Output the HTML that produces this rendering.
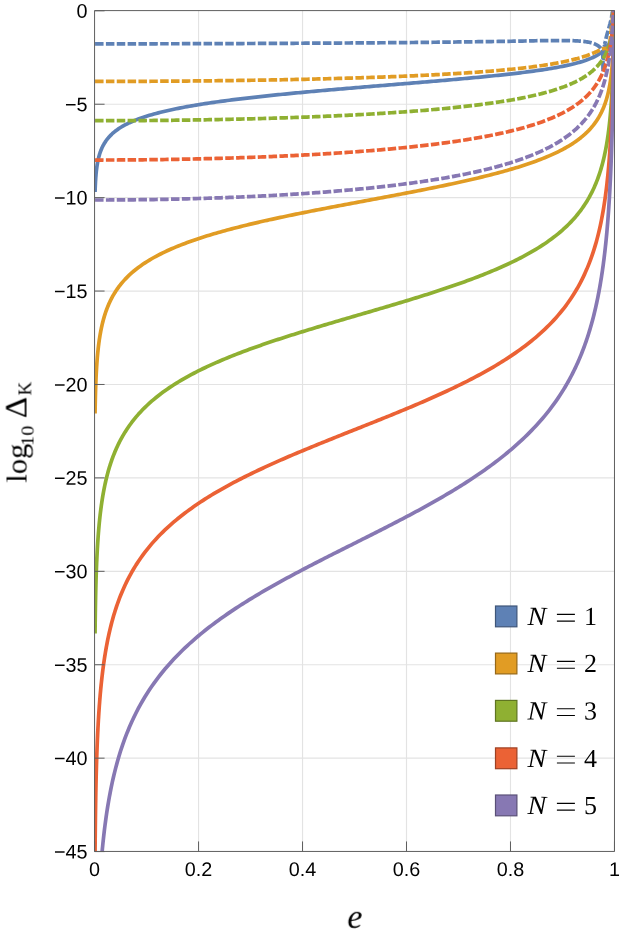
<!DOCTYPE html>
<html><head><meta charset="utf-8"><title>plot</title>
<style>
html,body{margin:0;padding:0;background:#fff;}
body{width:621px;height:945px;position:relative;overflow:hidden;font-family:"Liberation Sans",sans-serif;}
</style></head><body>
<svg width="621" height="945" viewBox="0 0 621 945" style="position:absolute;left:0;top:0;display:block">
<defs><clipPath id="pc"><rect x="93.97" y="10.1" width="520.9000000000001" height="841.35"/></clipPath></defs>
<rect x="0" y="0" width="621" height="945" fill="#ffffff"/>
<path d="M198.55,10.6 V851.45 M302.53,10.6 V851.45 M406.51,10.6 V851.45 M510.49,10.6 V851.45 M94.57,104.22 H614.47 M94.57,197.64 H614.47 M94.57,291.06 H614.47 M94.57,384.48 H614.47 M94.57,477.90 H614.47 M94.57,571.32 H614.47 M94.57,664.74 H614.47 M94.57,758.16 H614.47" stroke="#e3e3e3" stroke-width="1.15" fill="none"/>
<g clip-path="url(#pc)" fill="none" stroke-linejoin="round">
<path d="M95.06,192.01 L95.08,191.47 L95.09,190.93 L95.11,190.39 L95.13,189.84 L95.15,189.3 L95.17,188.76 L95.19,188.22 L95.21,187.68 L95.23,187.13 L95.25,186.59 L95.28,186.05 L95.3,185.51 L95.32,184.97 L95.35,184.42 L95.38,183.88 L95.4,183.34 L95.43,182.8 L95.46,182.26 L95.49,181.71 L95.52,181.17 L95.56,180.63 L95.59,180.09 L95.62,179.55 L95.66,179 L95.7,178.46 L95.73,177.92 L95.77,177.38 L95.81,176.84 L95.86,176.29 L95.9,175.75 L95.95,175.21 L95.99,174.67 L96.04,174.13 L96.09,173.59 L96.14,173.04 L96.2,172.5 L96.25,171.96 L96.31,171.42 L96.37,170.88 L96.43,170.33 L96.49,169.79 L96.56,169.25 L96.62,168.71 L96.69,168.17 L96.77,167.62 L96.84,167.08 L96.92,166.54 L97,166 L97.08,165.46 L97.17,164.91 L97.25,164.37 L97.34,163.83 L97.44,163.29 L97.54,162.75 L97.64,162.2 L97.74,161.66 L97.85,161.12 L97.96,160.58 L98.08,160.04 L98.19,159.49 L98.32,158.95 L98.44,158.41 L98.58,157.87 L98.71,157.33 L98.85,156.78 L99,156.24 L99.15,155.7 L99.3,155.16 L99.46,154.62 L99.63,154.07 L99.8,153.53 L99.98,152.99 L100.16,152.45 L100.35,151.91 L100.55,151.36 L100.75,150.82 L100.96,150.28 L101.18,149.74 L101.41,149.2 L101.64,148.65 L101.88,148.11 L102.13,147.57 L102.38,147.03 L102.65,146.49 L102.92,145.94 L103.21,145.4 L103.5,144.86 L103.8,144.32 L104.12,143.78 L104.44,143.23 L104.77,142.69 L105.12,142.15 L105.48,141.61 L105.85,141.06 L106.23,140.52 L106.63,139.98 L107.04,139.44 L107.46,138.9 L107.9,138.35 L108.35,137.81 L108.82,137.27 L109.3,136.73 L109.81,136.18 L110.32,135.64 L110.86,135.1 L111.41,134.56 L111.98,134.01 L112.57,133.47 L113.18,132.93 L113.82,132.39 L114.47,131.84 L115.15,131.3 L115.85,130.76 L116.57,130.22 L117.31,129.67 L118.09,129.13 L118.89,128.59 L119.71,128.04 L120.56,127.5 L122.79,126.17 L125.01,124.93 L127.23,123.79 L129.45,122.71 L131.67,121.71 L133.89,120.76 L136.11,119.86 L138.33,119.01 L140.55,118.2 L142.77,117.43 L144.99,116.69 L147.21,115.98 L149.43,115.31 L151.65,114.66 L153.88,114.03 L156.1,113.42 L158.32,112.84 L160.54,112.28 L162.76,111.73 L164.98,111.2 L167.2,110.69 L169.42,110.19 L171.64,109.7 L173.86,109.23 L176.08,108.77 L178.3,108.32 L180.52,107.89 L182.74,107.46 L184.96,107.05 L187.19,106.64 L189.41,106.24 L191.63,105.85 L193.85,105.47 L196.07,105.1 L198.29,104.73 L200.51,104.37 L202.73,104.02 L204.95,103.68 L207.17,103.34 L209.39,103.01 L211.61,102.68 L213.83,102.36 L216.05,102.04 L218.27,101.73 L220.5,101.42 L222.72,101.12 L224.94,100.82 L227.16,100.53 L229.38,100.24 L231.6,99.96 L233.82,99.68 L236.04,99.4 L238.26,99.13 L240.48,98.86 L242.7,98.59 L244.92,98.33 L247.14,98.07 L249.36,97.81 L251.59,97.56 L253.81,97.3 L256.03,97.06 L258.25,96.81 L260.47,96.57 L262.69,96.33 L264.91,96.09 L267.13,95.85 L269.35,95.62 L271.57,95.39 L273.79,95.16 L276.01,94.93 L278.23,94.7 L280.45,94.48 L282.67,94.26 L284.9,94.04 L287.12,93.82 L289.34,93.6 L291.56,93.39 L293.78,93.18 L296,92.96 L298.22,92.75 L300.44,92.55 L302.66,92.34 L304.88,92.13 L307.1,91.93 L309.32,91.72 L311.54,91.52 L313.76,91.32 L315.98,91.12 L318.21,90.92 L320.43,90.72 L322.65,90.53 L324.87,90.33 L327.09,90.14 L329.31,89.94 L331.53,89.75 L333.75,89.56 L335.97,89.37 L338.19,89.18 L340.41,88.99 L342.63,88.8 L344.85,88.61 L347.07,88.42 L349.29,88.23 L351.52,88.05 L353.74,87.86 L355.96,87.67 L358.18,87.49 L360.4,87.3 L362.62,87.12 L364.84,86.94 L367.06,86.75 L369.28,86.57 L371.5,86.39 L373.72,86.2 L375.94,86.02 L378.16,85.84 L380.38,85.66 L382.61,85.47 L384.83,85.29 L387.05,85.11 L389.27,84.93 L391.49,84.75 L393.71,84.57 L395.93,84.38 L398.15,84.2 L400.37,84.02 L402.59,83.84 L404.81,83.66 L407.03,83.47 L409.25,83.29 L411.47,83.11 L413.69,82.92 L415.92,82.74 L418.14,82.56 L420.36,82.37 L422.58,82.19 L424.8,82 L427.02,81.82 L429.24,81.63 L431.46,81.44 L433.68,81.25 L435.9,81.07 L438.12,80.88 L440.34,80.69 L442.56,80.5 L444.78,80.31 L447,80.11 L449.23,79.92 L451.45,79.72 L453.67,79.53 L455.89,79.33 L458.11,79.14 L460.33,78.94 L462.55,78.74 L464.77,78.53 L466.99,78.33 L469.21,78.13 L471.43,77.92 L473.65,77.71 L475.87,77.5 L478.09,77.29 L480.31,77.08 L482.54,76.86 L484.76,76.65 L486.98,76.43 L489.2,76.2 L491.42,75.98 L493.64,75.75 L495.86,75.52 L498.08,75.29 L500.3,75.06 L502.52,74.82 L504.74,74.58 L506.96,74.34 L509.18,74.09 L511.4,73.84 L513.63,73.58 L515.85,73.32 L518.07,73.06 L520.29,72.79 L522.51,72.52 L524.73,72.24 L526.95,71.96 L529.17,71.67 L531.39,71.37 L533.61,71.07 L535.83,70.77 L538.05,70.45 L540.27,70.13 L542.49,69.8 L544.71,69.46 L546.94,69.12 L549.16,68.76 L551.38,68.39 L553.6,68.01 L555.82,67.62 L558.04,67.21 L560.26,66.79 L562.48,66.36 L563.67,66.12 L564.83,65.88 L565.96,65.64 L567.07,65.41 L568.15,65.17 L569.2,64.93 L570.24,64.69 L571.25,64.46 L572.23,64.22 L573.2,63.99 L574.14,63.75 L575.06,63.52 L575.96,63.28 L576.84,63.05 L577.7,62.81 L578.53,62.58 L579.35,62.35 L580.16,62.11 L580.94,61.88 L581.7,61.65 L582.45,61.41 L583.18,61.18 L583.9,60.95 L584.59,60.72 L585.28,60.48 L585.94,60.25 L586.59,60.02 L587.23,59.79 L587.85,59.56 L588.46,59.32 L589.05,59.09 L589.63,58.86 L590.2,58.63 L590.75,58.4 L591.29,58.17 L591.82,57.94 L592.34,57.7 L592.84,57.47 L593.34,57.24 L593.82,57.01 L594.29,56.78 L594.75,56.55 L595.2,56.31 L595.64,56.08 L596.07,55.85 L596.49,55.62 L596.9,55.39 L597.3,55.16 L597.69,54.92 L598.08,54.69 L598.45,54.46 L598.82,54.23 L599.17,53.99 L599.52,53.76 L599.86,53.53 L600.2,53.3 L600.52,53.06 L600.84,52.83 L601.15,52.6 L601.46,52.37 L601.75,52.13 L602.04,51.9 L602.33,51.66 L602.6,51.43 L602.87,51.2 L603.14,50.96 L603.4,50.73 L603.65,50.49 L603.9,50.26 L604.14,50.03 L604.37,49.79 L604.6,49.56 L604.83,49.32 L605.05,49.09 L605.26,48.85 L605.47,48.61 L605.68,48.38 L605.88,48.14 L606.08,47.91 L606.27,47.67 L606.46,47.43 L606.64,47.2 L606.82,46.96 L606.99,46.72 L607.16,46.48 L607.33,46.25 L607.49,46.01 L607.65,45.77 L607.81,45.53 L607.96,45.29 L608.11,45.06 L608.25,44.82 L608.39,44.58 L608.53,44.34 L608.67,44.1 L608.8,43.86 L608.93,43.62 L609.06,43.38 L609.18,43.14 L609.3,42.9 L609.42,42.66 L609.53,42.41 L609.65,42.17 L609.76,41.93 L609.86,41.69 L609.97,41.45 L610.07,41.2 L610.17,40.96 L610.27,40.72 L610.37,40.47 L610.46,40.23 L610.55,39.99 L610.64,39.74 L610.73,39.5 L610.81,39.25 L610.9,39.01 L610.98,38.76 L611.06,38.52 L611.14,38.27 L611.21,38.03 L611.29,37.78 L611.36,37.54 L611.43,37.29 L611.5,37.04 L611.57,36.8 L611.63,36.55 L611.7,36.3 L611.76,36.05 L611.82,35.8 L611.88,35.56 L611.94,35.31 L612,35.06 L612.06,34.81 L612.11,34.56 L612.17,34.31 L612.22,34.06 L612.27,33.81 L612.32,33.56 L612.37,33.31 L612.42,33.06 L612.46,32.8 L612.51,32.55 L612.55,32.3 L612.6,32.05 L612.64,31.8 L612.68,31.54 L612.72,31.29 L612.76,31.04 L612.8,30.78 L612.84,30.53 L612.88,30.27 L612.91,30.02 L612.95,29.77 L612.98,29.51 L613.02,29.25 L613.05,29 L613.08,28.74 L613.11,28.49 L613.15,28.23 L613.18,27.97 L613.21,27.72 L613.23,27.46 L613.26,27.2 L613.29,26.94 L613.32,26.68 L613.34,26.43 L613.37,26.17 L613.39,25.91 L613.42,25.65 L613.44,25.39 L613.47,25.13 L613.49,24.87 L613.51,24.61 L613.53,24.35 L613.55,24.09 L613.58,23.83 L613.6,23.56 L613.62,23.3 L613.64,23.04 L613.65,22.78 L613.67,22.51 L613.69,22.25 L613.71,21.99 L613.73,21.72 L613.74,21.46 L613.76,21.2 L613.78,20.93 L613.79,20.67 L613.81,20.4 L613.82,20.13 L613.84,19.87 L613.85,19.6 L613.87,19.34 L613.88,19.07 L613.89,18.8 L613.91,18.54 L613.92,18.27 L613.93,18 L613.94,17.73 L613.96,17.46 L613.97,17.19 L613.98,16.93 L613.99,16.66 L614,16.39 L614.01,16.12 L614.02,15.85 L614.03,15.58 L614.04,15.31 L614.05,15.03 L614.06,14.76 L614.07,14.49 L614.08,14.22 L614.09,13.95 L614.1,13.67 L614.11,13.4 L614.11,13.13 L614.12,12.85 L614.13,12.58 L614.14,12.31 L614.15,12.03 L614.15,11.76 L614.16,11.48 L614.17,11.21 L614.17,10.93 L614.18,10.66 L614.19,10.38 L614.19,10.1 L614.2,9.83 L614.21,9.55 L614.21,9.27 L614.22,9 L614.22,8.72 L614.23,8.44 L614.24,8.16 L614.24,7.88 L614.25,7.6 L614.25,7.32 L614.26,7.04 L614.26,6.76 L614.27,6.48 L614.27,6.2 L614.28,5.92 L614.28,5.64 L614.28,5.36 L614.29,5.08 L614.29,4.8 L614.3,4.51 L614.3,4.23 L614.3,3.95 L614.31,3.66 L614.31,3.38 L614.32,3.1 L614.32,2.81 L614.32,2.53 L614.33,2.24 L614.33,1.96 L614.33,1.67 L614.34,1.39 L614.34,1.1 L614.34,0.81 L614.34,0.53 L614.35,0.24 L614.35,-0.05 L614.35,-0.33 L614.36,-0.62 L614.36,-0.91 L614.36,-1.2 L614.36,-1.49 L614.37,-1.78 L614.37,-2.06 L614.37,-2.35 L614.37,-2.64 L614.37,-2.93 L614.38,-3.23 L614.38,-3.52 L614.38,-3.81 L614.38,-4.1 L614.39,-4.39 L614.39,-4.68 L614.39,-4.97 L614.39,-5.27 L614.39,-5.56 L614.39,-5.85 L614.4,-6.15 L614.4,-6.44 L614.4,-6.73 L614.4,-7.03 L614.4,-7.32 L614.4,-7.62 L614.41,-7.91 L614.41,-8.21 L614.41,-8.5 L614.41,-8.8 L614.41,-9.1 L614.41,-9.39 L614.41,-9.69 L614.42,-9.99 L614.42,-10.29 L614.42,-10.58 L614.42,-10.88 L614.42,-11.18 L614.42,-11.48 L614.42,-11.78 L614.42,-12.08 L614.42,-12.38 L614.43,-12.68 L614.43,-12.98 L614.43,-13.28 L614.43,-13.58 L614.43,-13.88 L614.43,-14.18 L614.43,-14.48 L614.43,-14.79 L614.43,-15.09 L614.43,-15.39 L614.43,-15.7 L614.44,-16 L614.44,-16.3 L614.44,-16.61 L614.44,-16.91 L614.44,-17.22 L614.44,-17.23 L614.45,-17.23 L614.46,-17.23" stroke="#5E81B5" stroke-width="3.7"/>
<path d="M95.06,413.58 L95.08,412.5 L95.09,411.41 L95.11,410.33 L95.13,409.24 L95.15,408.16 L95.17,407.08 L95.19,405.99 L95.21,404.91 L95.23,403.83 L95.25,402.74 L95.28,401.66 L95.3,400.57 L95.32,399.49 L95.35,398.41 L95.38,397.32 L95.4,396.24 L95.43,395.15 L95.46,394.07 L95.49,392.99 L95.52,391.9 L95.56,390.82 L95.59,389.73 L95.62,388.65 L95.66,387.57 L95.7,386.48 L95.73,385.4 L95.77,384.32 L95.81,383.23 L95.86,382.15 L95.9,381.06 L95.95,379.98 L95.99,378.9 L96.04,377.81 L96.09,376.73 L96.14,375.64 L96.2,374.56 L96.25,373.48 L96.31,372.39 L96.37,371.31 L96.43,370.22 L96.49,369.14 L96.56,368.06 L96.62,366.97 L96.69,365.89 L96.77,364.8 L96.84,363.72 L96.92,362.64 L97,361.55 L97.08,360.47 L97.17,359.39 L97.25,358.3 L97.34,357.22 L97.44,356.13 L97.54,355.05 L97.64,353.97 L97.74,352.88 L97.85,351.8 L97.96,350.71 L98.08,349.63 L98.19,348.55 L98.32,347.46 L98.44,346.38 L98.58,345.29 L98.71,344.21 L98.85,343.13 L99,342.04 L99.15,340.96 L99.3,339.87 L99.46,338.79 L99.63,337.71 L99.8,336.62 L99.98,335.54 L100.16,334.45 L100.35,333.37 L100.55,332.29 L100.75,331.2 L100.96,330.12 L101.18,329.03 L101.41,327.95 L101.64,326.86 L101.88,325.78 L102.13,324.7 L102.38,323.61 L102.65,322.53 L102.92,321.44 L103.21,320.36 L103.5,319.27 L103.8,318.19 L104.12,317.11 L104.44,316.02 L104.77,314.94 L105.12,313.85 L105.48,312.77 L105.85,311.68 L106.23,310.6 L106.63,309.51 L107.04,308.43 L107.46,307.34 L107.9,306.26 L108.35,305.17 L108.82,304.09 L109.3,303 L109.81,301.92 L110.32,300.83 L110.86,299.75 L111.41,298.66 L111.98,297.58 L112.57,296.49 L113.18,295.41 L113.82,294.32 L114.47,293.23 L115.15,292.15 L115.85,291.06 L116.57,289.97 L117.31,288.89 L118.09,287.8 L118.89,286.71 L119.71,285.62 L120.56,284.54 L122.79,281.87 L125.01,279.39 L127.23,277.1 L129.45,274.95 L131.67,272.93 L133.89,271.03 L136.11,269.23 L138.33,267.52 L140.55,265.9 L142.77,264.35 L144.99,262.86 L147.21,261.44 L149.43,260.08 L151.65,258.77 L153.88,257.51 L156.1,256.29 L158.32,255.11 L160.54,253.98 L162.76,252.87 L164.98,251.81 L167.2,250.77 L169.42,249.76 L171.64,248.78 L173.86,247.83 L176.08,246.9 L178.3,245.99 L180.52,245.11 L182.74,244.24 L184.96,243.4 L187.19,242.57 L189.41,241.77 L191.63,240.97 L193.85,240.2 L196.07,239.44 L198.29,238.69 L200.51,237.96 L202.73,237.25 L204.95,236.54 L207.17,235.85 L209.39,235.16 L211.61,234.49 L213.83,233.83 L216.05,233.18 L218.27,232.54 L220.5,231.91 L222.72,231.29 L224.94,230.68 L227.16,230.07 L229.38,229.48 L231.6,228.89 L233.82,228.31 L236.04,227.73 L238.26,227.17 L240.48,226.61 L242.7,226.05 L244.92,225.5 L247.14,224.96 L249.36,224.42 L251.59,223.89 L253.81,223.37 L256.03,222.85 L258.25,222.33 L260.47,221.82 L262.69,221.31 L264.91,220.81 L267.13,220.32 L269.35,219.82 L271.57,219.33 L273.79,218.85 L276.01,218.36 L278.23,217.89 L280.45,217.41 L282.67,216.94 L284.9,216.47 L287.12,216.01 L289.34,215.54 L291.56,215.08 L293.78,214.63 L296,214.17 L298.22,213.72 L300.44,213.27 L302.66,212.82 L304.88,212.38 L307.1,211.94 L309.32,211.5 L311.54,211.06 L313.76,210.62 L315.98,210.19 L318.21,209.75 L320.43,209.32 L322.65,208.89 L324.87,208.46 L327.09,208.03 L329.31,207.61 L331.53,207.18 L333.75,206.76 L335.97,206.34 L338.19,205.91 L340.41,205.49 L342.63,205.07 L344.85,204.65 L347.07,204.23 L349.29,203.82 L351.52,203.4 L353.74,202.98 L355.96,202.56 L358.18,202.15 L360.4,201.73 L362.62,201.31 L364.84,200.9 L367.06,200.48 L369.28,200.07 L371.5,199.65 L373.72,199.23 L375.94,198.82 L378.16,198.4 L380.38,197.98 L382.61,197.57 L384.83,197.15 L387.05,196.73 L389.27,196.31 L391.49,195.89 L393.71,195.47 L395.93,195.05 L398.15,194.62 L400.37,194.2 L402.59,193.77 L404.81,193.35 L407.03,192.92 L409.25,192.49 L411.47,192.06 L413.69,191.63 L415.92,191.19 L418.14,190.76 L420.36,190.32 L422.58,189.88 L424.8,189.44 L427.02,188.99 L429.24,188.55 L431.46,188.1 L433.68,187.65 L435.9,187.2 L438.12,186.74 L440.34,186.28 L442.56,185.82 L444.78,185.36 L447,184.89 L449.23,184.42 L451.45,183.94 L453.67,183.47 L455.89,182.98 L458.11,182.5 L460.33,182.01 L462.55,181.51 L464.77,181.02 L466.99,180.51 L469.21,180.01 L471.43,179.49 L473.65,178.98 L475.87,178.45 L478.09,177.93 L480.31,177.39 L482.54,176.85 L484.76,176.31 L486.98,175.75 L489.2,175.19 L491.42,174.63 L493.64,174.05 L495.86,173.47 L498.08,172.88 L500.3,172.28 L502.52,171.68 L504.74,171.06 L506.96,170.43 L509.18,169.8 L511.4,169.15 L513.63,168.5 L515.85,167.83 L518.07,167.15 L520.29,166.45 L522.51,165.74 L524.73,165.02 L526.95,164.29 L529.17,163.53 L531.39,162.77 L533.61,161.98 L535.83,161.17 L538.05,160.35 L540.27,159.5 L542.49,158.64 L544.71,157.74 L546.94,156.83 L549.16,155.88 L551.38,154.91 L553.6,153.91 L555.82,152.87 L558.04,151.79 L560.26,150.68 L562.48,149.52 L563.67,148.88 L564.83,148.25 L565.96,147.61 L567.07,146.98 L568.15,146.35 L569.2,145.71 L570.24,145.08 L571.25,144.45 L572.23,143.82 L573.2,143.19 L574.14,142.56 L575.06,141.94 L575.96,141.31 L576.84,140.68 L577.7,140.06 L578.53,139.43 L579.35,138.81 L580.16,138.19 L580.94,137.56 L581.7,136.94 L582.45,136.32 L583.18,135.7 L583.9,135.07 L584.59,134.45 L585.28,133.83 L585.94,133.21 L586.59,132.59 L587.23,131.97 L587.85,131.35 L588.46,130.74 L589.05,130.12 L589.63,129.5 L590.2,128.88 L590.75,128.26 L591.29,127.64 L591.82,127.03 L592.34,126.41 L592.84,125.79 L593.34,125.18 L593.82,124.56 L594.29,123.94 L594.75,123.33 L595.2,122.71 L595.64,122.1 L596.07,121.48 L596.49,120.86 L596.9,120.25 L597.3,119.63 L597.69,119.02 L598.08,118.4 L598.45,117.79 L598.82,117.17 L599.17,116.55 L599.52,115.94 L599.86,115.32 L600.2,114.71 L600.52,114.09 L600.84,113.48 L601.15,112.86 L601.46,112.25 L601.75,111.63 L602.04,111.01 L602.33,110.4 L602.6,109.78 L602.87,109.17 L603.14,108.55 L603.4,107.94 L603.65,107.32 L603.9,106.7 L604.14,106.09 L604.37,105.47 L604.6,104.85 L604.83,104.24 L605.05,103.62 L605.26,103 L605.47,102.39 L605.68,101.77 L605.88,101.15 L606.08,100.54 L606.27,99.92 L606.46,99.3 L606.64,98.68 L606.82,98.06 L606.99,97.45 L607.16,96.83 L607.33,96.21 L607.49,95.59 L607.65,94.97 L607.81,94.35 L607.96,93.73 L608.11,93.11 L608.25,92.5 L608.39,91.88 L608.53,91.26 L608.67,90.64 L608.8,90.02 L608.93,89.39 L609.06,88.77 L609.18,88.15 L609.3,87.53 L609.42,86.91 L609.53,86.29 L609.65,85.67 L609.76,85.05 L609.86,84.42 L609.97,83.8 L610.07,83.18 L610.17,82.55 L610.27,81.93 L610.37,81.31 L610.46,80.68 L610.55,80.06 L610.64,79.44 L610.73,78.81 L610.81,78.19 L610.9,77.56 L610.98,76.94 L611.06,76.31 L611.14,75.69 L611.21,75.06 L611.29,74.43 L611.36,73.81 L611.43,73.18 L611.5,72.55 L611.57,71.93 L611.63,71.3 L611.7,70.67 L611.76,70.04 L611.82,69.42 L611.88,68.79 L611.94,68.16 L612,67.53 L612.06,66.9 L612.11,66.27 L612.17,65.64 L612.22,65.01 L612.27,64.38 L612.32,63.75 L612.37,63.12 L612.42,62.49 L612.46,61.86 L612.51,61.22 L612.55,60.59 L612.6,59.96 L612.64,59.33 L612.68,58.69 L612.72,58.06 L612.76,57.43 L612.8,56.79 L612.84,56.16 L612.88,55.52 L612.91,54.89 L612.95,54.25 L612.98,53.62 L613.02,52.98 L613.05,52.35 L613.08,51.71 L613.11,51.08 L613.15,50.44 L613.18,49.8 L613.21,49.16 L613.23,48.53 L613.26,47.89 L613.29,47.25 L613.32,46.61 L613.34,45.97 L613.37,45.33 L613.39,44.69 L613.42,44.05 L613.44,43.41 L613.47,42.77 L613.49,42.13 L613.51,41.49 L613.53,40.85 L613.55,40.21 L613.58,39.57 L613.6,38.93 L613.62,38.28 L613.64,37.64 L613.65,37 L613.67,36.35 L613.69,35.71 L613.71,35.07 L613.73,34.42 L613.74,33.78 L613.76,33.13 L613.78,32.49 L613.79,31.84 L613.81,31.2 L613.82,30.55 L613.84,29.9 L613.85,29.26 L613.87,28.61 L613.88,27.96 L613.89,27.31 L613.91,26.67 L613.92,26.02 L613.93,25.37 L613.94,24.72 L613.96,24.07 L613.97,23.42 L613.98,22.77 L613.99,22.12 L614,21.47 L614.01,20.82 L614.02,20.17 L614.03,19.52 L614.04,18.86 L614.05,18.21 L614.06,17.56 L614.07,16.91 L614.08,16.25 L614.09,15.6 L614.1,14.95 L614.11,14.29 L614.11,13.64 L614.12,12.98 L614.13,12.33 L614.14,11.67 L614.15,11.02 L614.15,10.36 L614.16,9.71 L614.17,9.05 L614.17,8.39 L614.18,7.74 L614.19,7.08 L614.19,6.42 L614.2,5.76 L614.21,5.1 L614.21,4.44 L614.22,3.79 L614.22,3.13 L614.23,2.47 L614.24,1.81 L614.24,1.15 L614.25,0.48 L614.25,-0.18 L614.26,-0.84 L614.26,-1.5 L614.27,-2.16 L614.27,-2.82 L614.28,-3.49 L614.28,-4.15 L614.28,-4.81 L614.29,-5.48 L614.29,-6.14 L614.3,-6.8 L614.3,-7.47 L614.3,-8.13 L614.31,-8.8 L614.31,-9.46 L614.32,-10.13 L614.32,-10.8 L614.32,-11.46 L614.33,-12.13 L614.33,-12.8 L614.33,-13.46 L614.34,-14.13 L614.34,-14.8 L614.34,-15.47 L614.34,-16.14 L614.35,-16.81 L614.35,-17.23 L614.36,-17.23 L614.37,-17.23 L614.38,-17.23 L614.39,-17.23 L614.4,-17.23 L614.41,-17.23 L614.42,-17.23 L614.43,-17.23 L614.44,-17.23 L614.45,-17.23 L614.46,-17.23" stroke="#E19C24" stroke-width="3.7"/>
<path d="M95.06,633.47 L95.08,631.84 L95.09,630.22 L95.11,628.59 L95.13,626.96 L95.15,625.34 L95.17,623.71 L95.19,622.09 L95.21,620.46 L95.23,618.83 L95.25,617.21 L95.28,615.58 L95.3,613.96 L95.32,612.33 L95.35,610.71 L95.38,609.08 L95.4,607.45 L95.43,605.83 L95.46,604.2 L95.49,602.58 L95.52,600.95 L95.56,599.32 L95.59,597.7 L95.62,596.07 L95.66,594.45 L95.7,592.82 L95.73,591.2 L95.77,589.57 L95.81,587.94 L95.86,586.32 L95.9,584.69 L95.95,583.07 L95.99,581.44 L96.04,579.81 L96.09,578.19 L96.14,576.56 L96.2,574.94 L96.25,573.31 L96.31,571.69 L96.37,570.06 L96.43,568.43 L96.49,566.81 L96.56,565.18 L96.62,563.56 L96.69,561.93 L96.77,560.3 L96.84,558.68 L96.92,557.05 L97,555.43 L97.08,553.8 L97.17,552.17 L97.25,550.55 L97.34,548.92 L97.44,547.3 L97.54,545.67 L97.64,544.05 L97.74,542.42 L97.85,540.79 L97.96,539.17 L98.08,537.54 L98.19,535.92 L98.32,534.29 L98.44,532.66 L98.58,531.04 L98.71,529.41 L98.85,527.79 L99,526.16 L99.15,524.53 L99.3,522.91 L99.46,521.28 L99.63,519.66 L99.8,518.03 L99.98,516.4 L100.16,514.78 L100.35,513.15 L100.55,511.52 L100.75,509.9 L100.96,508.27 L101.18,506.65 L101.41,505.02 L101.64,503.39 L101.88,501.77 L102.13,500.14 L102.38,498.51 L102.65,496.89 L102.92,495.26 L103.21,493.63 L103.5,492.01 L103.8,490.38 L104.12,488.75 L104.44,487.13 L104.77,485.5 L105.12,483.87 L105.48,482.25 L105.85,480.62 L106.23,478.99 L106.63,477.37 L107.04,475.74 L107.46,474.11 L107.9,472.48 L108.35,470.86 L108.82,469.23 L109.3,467.6 L109.81,465.97 L110.32,464.34 L110.86,462.72 L111.41,461.09 L111.98,459.46 L112.57,457.83 L113.18,456.2 L113.82,454.57 L114.47,452.94 L115.15,451.31 L115.85,449.68 L116.57,448.05 L117.31,446.42 L118.09,444.79 L118.89,443.16 L119.71,441.52 L120.56,439.89 L122.79,435.88 L125.01,432.17 L127.23,428.73 L129.45,425.5 L131.67,422.47 L133.89,419.61 L136.11,416.91 L138.33,414.35 L140.55,411.91 L142.77,409.58 L144.99,407.35 L147.21,405.22 L149.43,403.17 L151.65,401.2 L153.88,399.31 L156.1,397.48 L158.32,395.71 L160.54,394 L162.76,392.34 L164.98,390.73 L167.2,389.17 L169.42,387.65 L171.64,386.18 L173.86,384.74 L176.08,383.34 L178.3,381.98 L180.52,380.64 L182.74,379.34 L184.96,378.07 L187.19,376.83 L189.41,375.61 L191.63,374.41 L193.85,373.25 L196.07,372.1 L198.29,370.97 L200.51,369.87 L202.73,368.78 L204.95,367.72 L207.17,366.67 L209.39,365.64 L211.61,364.63 L213.83,363.63 L216.05,362.65 L218.27,361.68 L220.5,360.72 L222.72,359.78 L224.94,358.85 L227.16,357.94 L229.38,357.03 L231.6,356.14 L233.82,355.26 L236.04,354.39 L238.26,353.52 L240.48,352.67 L242.7,351.83 L244.92,351 L247.14,350.17 L249.36,349.36 L251.59,348.55 L253.81,347.75 L256.03,346.95 L258.25,346.17 L260.47,345.39 L262.69,344.62 L264.91,343.85 L267.13,343.09 L269.35,342.34 L271.57,341.59 L273.79,340.85 L276.01,340.11 L278.23,339.38 L280.45,338.66 L282.67,337.93 L284.9,337.22 L287.12,336.5 L289.34,335.79 L291.56,335.09 L293.78,334.39 L296,333.69 L298.22,333 L300.44,332.31 L302.66,331.62 L304.88,330.93 L307.1,330.25 L309.32,329.58 L311.54,328.9 L313.76,328.23 L315.98,327.55 L318.21,326.89 L320.43,326.22 L322.65,325.56 L324.87,324.89 L327.09,324.23 L329.31,323.57 L331.53,322.91 L333.75,322.26 L335.97,321.6 L338.19,320.95 L340.41,320.3 L342.63,319.64 L344.85,318.99 L347.07,318.34 L349.29,317.69 L351.52,317.04 L353.74,316.39 L355.96,315.74 L358.18,315.09 L360.4,314.44 L362.62,313.8 L364.84,313.15 L367.06,312.5 L369.28,311.85 L371.5,311.2 L373.72,310.54 L375.94,309.89 L378.16,309.24 L380.38,308.58 L382.61,307.93 L384.83,307.27 L387.05,306.62 L389.27,305.96 L391.49,305.3 L393.71,304.63 L395.93,303.97 L398.15,303.3 L400.37,302.63 L402.59,301.96 L404.81,301.29 L407.03,300.61 L409.25,299.94 L411.47,299.25 L413.69,298.57 L415.92,297.88 L418.14,297.19 L420.36,296.5 L422.58,295.8 L424.8,295.1 L427.02,294.4 L429.24,293.69 L431.46,292.98 L433.68,292.26 L435.9,291.54 L438.12,290.81 L440.34,290.08 L442.56,289.34 L444.78,288.6 L447,287.85 L449.23,287.1 L451.45,286.34 L453.67,285.57 L455.89,284.8 L458.11,284.02 L460.33,283.24 L462.55,282.45 L464.77,281.64 L466.99,280.84 L469.21,280.02 L471.43,279.19 L473.65,278.36 L475.87,277.52 L478.09,276.67 L480.31,275.8 L482.54,274.93 L484.76,274.05 L486.98,273.15 L489.2,272.25 L491.42,271.33 L493.64,270.4 L495.86,269.45 L498.08,268.49 L500.3,267.52 L502.52,266.53 L504.74,265.53 L506.96,264.51 L509.18,263.48 L511.4,262.42 L513.63,261.35 L515.85,260.25 L518.07,259.14 L520.29,258.01 L522.51,256.85 L524.73,255.66 L526.95,254.46 L529.17,253.22 L531.39,251.96 L533.61,250.67 L535.83,249.34 L538.05,247.98 L540.27,246.59 L542.49,245.16 L544.71,243.68 L546.94,242.17 L549.16,240.61 L551.38,238.99 L553.6,237.33 L555.82,235.61 L558.04,233.82 L560.26,231.97 L562.48,230.05 L563.67,228.99 L564.83,227.93 L565.96,226.87 L567.07,225.81 L568.15,224.76 L569.2,223.7 L570.24,222.65 L571.25,221.6 L572.23,220.55 L573.2,219.5 L574.14,218.44 L575.06,217.4 L575.96,216.35 L576.84,215.3 L577.7,214.25 L578.53,213.2 L579.35,212.16 L580.16,211.11 L580.94,210.07 L581.7,209.02 L582.45,207.98 L583.18,206.93 L583.9,205.89 L584.59,204.85 L585.28,203.8 L585.94,202.76 L586.59,201.72 L587.23,200.68 L587.85,199.64 L588.46,198.59 L589.05,197.55 L589.63,196.51 L590.2,195.47 L590.75,194.43 L591.29,193.39 L591.82,192.34 L592.34,191.3 L592.84,190.26 L593.34,189.22 L593.82,188.18 L594.29,187.14 L594.75,186.1 L595.2,185.05 L595.64,184.01 L596.07,182.97 L596.49,181.93 L596.9,180.89 L597.3,179.85 L597.69,178.8 L598.08,177.76 L598.45,176.72 L598.82,175.67 L599.17,174.63 L599.52,173.59 L599.86,172.54 L600.2,171.5 L600.52,170.46 L600.84,169.41 L601.15,168.37 L601.46,167.32 L601.75,166.28 L602.04,165.23 L602.33,164.18 L602.6,163.14 L602.87,162.09 L603.14,161.04 L603.4,160 L603.65,158.95 L603.9,157.9 L604.14,156.85 L604.37,155.8 L604.6,154.75 L604.83,153.7 L605.05,152.65 L605.26,151.6 L605.47,150.55 L605.68,149.5 L605.88,148.45 L606.08,147.39 L606.27,146.34 L606.46,145.29 L606.64,144.23 L606.82,143.18 L606.99,142.12 L607.16,141.07 L607.33,140.01 L607.49,138.95 L607.65,137.9 L607.81,136.84 L607.96,135.78 L608.11,134.72 L608.25,133.66 L608.39,132.6 L608.53,131.54 L608.67,130.48 L608.8,129.42 L608.93,128.36 L609.06,127.3 L609.18,126.24 L609.3,125.17 L609.42,124.11 L609.53,123.04 L609.65,121.98 L609.76,120.91 L609.86,119.85 L609.97,118.78 L610.07,117.71 L610.17,116.64 L610.27,115.57 L610.37,114.5 L610.46,113.44 L610.55,112.36 L610.64,111.29 L610.73,110.22 L610.81,109.15 L610.9,108.08 L610.98,107 L611.06,105.93 L611.14,104.85 L611.21,103.78 L611.29,102.7 L611.36,101.63 L611.43,100.55 L611.5,99.47 L611.57,98.39 L611.63,97.31 L611.7,96.23 L611.76,95.15 L611.82,94.07 L611.88,92.99 L611.94,91.91 L612,90.82 L612.06,89.74 L612.11,88.66 L612.17,87.57 L612.22,86.49 L612.27,85.4 L612.32,84.31 L612.37,83.22 L612.42,82.14 L612.46,81.05 L612.51,79.96 L612.55,78.87 L612.6,77.78 L612.64,76.69 L612.68,75.59 L612.72,74.5 L612.76,73.41 L612.8,72.31 L612.84,71.22 L612.88,70.12 L612.91,69.03 L612.95,67.93 L612.98,66.83 L613.02,65.73 L613.05,64.63 L613.08,63.54 L613.11,62.43 L613.15,61.33 L613.18,60.23 L613.21,59.13 L613.23,58.03 L613.26,56.92 L613.29,55.82 L613.32,54.71 L613.34,53.61 L613.37,52.5 L613.39,51.4 L613.42,50.29 L613.44,49.18 L613.47,48.07 L613.49,46.96 L613.51,45.85 L613.53,44.74 L613.55,43.63 L613.58,42.51 L613.6,41.4 L613.62,40.29 L613.64,39.17 L613.65,38.06 L613.67,36.94 L613.69,35.82 L613.71,34.71 L613.73,33.59 L613.74,32.47 L613.76,31.35 L613.78,30.23 L613.79,29.11 L613.81,27.99 L613.82,26.87 L613.84,25.74 L613.85,24.62 L613.87,23.5 L613.88,22.37 L613.89,21.24 L613.91,20.12 L613.92,18.99 L613.93,17.86 L613.94,16.73 L613.96,15.61 L613.97,14.48 L613.98,13.34 L613.99,12.21 L614,11.08 L614.01,9.95 L614.02,8.82 L614.03,7.68 L614.04,6.55 L614.05,5.41 L614.06,4.27 L614.07,3.14 L614.08,2 L614.09,0.86 L614.1,-0.28 L614.11,-1.42 L614.11,-2.56 L614.12,-3.7 L614.13,-4.84 L614.14,-5.98 L614.15,-7.13 L614.15,-8.27 L614.16,-9.42 L614.17,-10.56 L614.17,-11.71 L614.18,-12.85 L614.19,-14 L614.19,-15.15 L614.2,-16.3 L614.21,-17.23 L614.22,-17.23 L614.23,-17.23 L614.24,-17.23 L614.25,-17.23 L614.26,-17.23 L614.27,-17.23 L614.28,-17.23 L614.29,-17.23 L614.3,-17.23 L614.31,-17.23 L614.32,-17.23 L614.33,-17.23 L614.34,-17.23 L614.35,-17.23 L614.36,-17.23 L614.37,-17.23 L614.38,-17.23 L614.39,-17.23 L614.4,-17.23 L614.41,-17.23 L614.42,-17.23 L614.43,-17.23 L614.44,-17.23 L614.45,-17.23 L614.46,-17.23" stroke="#8FB032" stroke-width="3.7"/>
<path d="M95.06,853.63 L95.08,851.47 L95.09,849.3 L95.11,847.13 L95.13,844.96 L95.15,842.8 L95.17,840.63 L95.19,838.46 L95.21,836.29 L95.23,834.12 L95.25,831.96 L95.28,829.79 L95.3,827.62 L95.32,825.45 L95.35,823.29 L95.38,821.12 L95.4,818.95 L95.43,816.78 L95.46,814.61 L95.49,812.45 L95.52,810.28 L95.56,808.11 L95.59,805.94 L95.62,803.78 L95.66,801.61 L95.7,799.44 L95.73,797.27 L95.77,795.1 L95.81,792.94 L95.86,790.77 L95.9,788.6 L95.95,786.43 L95.99,784.27 L96.04,782.1 L96.09,779.93 L96.14,777.76 L96.2,775.59 L96.25,773.43 L96.31,771.26 L96.37,769.09 L96.43,766.92 L96.49,764.76 L96.56,762.59 L96.62,760.42 L96.69,758.25 L96.77,756.08 L96.84,753.92 L96.92,751.75 L97,749.58 L97.08,747.41 L97.17,745.24 L97.25,743.08 L97.34,740.91 L97.44,738.74 L97.54,736.57 L97.64,734.41 L97.74,732.24 L97.85,730.07 L97.96,727.9 L98.08,725.73 L98.19,723.57 L98.32,721.4 L98.44,719.23 L98.58,717.06 L98.71,714.89 L98.85,712.73 L99,710.56 L99.15,708.39 L99.3,706.22 L99.46,704.05 L99.63,701.89 L99.8,699.72 L99.98,697.55 L100.16,695.38 L100.35,693.21 L100.55,691.04 L100.75,688.88 L100.96,686.71 L101.18,684.54 L101.41,682.37 L101.64,680.2 L101.88,678.03 L102.13,675.87 L102.38,673.7 L102.65,671.53 L102.92,669.36 L103.21,667.19 L103.5,665.02 L103.8,662.85 L104.12,660.68 L104.44,658.51 L104.77,656.35 L105.12,654.18 L105.48,652.01 L105.85,649.84 L106.23,647.67 L106.63,645.5 L107.04,643.33 L107.46,641.16 L107.9,638.99 L108.35,636.82 L108.82,634.65 L109.3,632.48 L109.81,630.31 L110.32,628.13 L110.86,625.96 L111.41,623.79 L111.98,621.62 L112.57,619.45 L113.18,617.27 L113.82,615.1 L114.47,612.93 L115.15,610.76 L115.85,608.58 L116.57,606.41 L117.31,604.23 L118.09,602.06 L118.89,599.88 L119.71,597.7 L120.56,595.53 L122.79,590.18 L125.01,585.24 L127.23,580.63 L129.45,576.33 L131.67,572.29 L133.89,568.48 L136.11,564.88 L138.33,561.46 L140.55,558.2 L142.77,555.09 L144.99,552.12 L147.21,549.28 L149.43,546.55 L151.65,543.92 L153.88,541.38 L156.1,538.94 L158.32,536.58 L160.54,534.3 L162.76,532.08 L164.98,529.94 L167.2,527.85 L169.42,525.83 L171.64,523.86 L173.86,521.94 L176.08,520.07 L178.3,518.24 L180.52,516.46 L182.74,514.72 L184.96,513.02 L187.19,511.36 L189.41,509.73 L191.63,508.13 L193.85,506.57 L196.07,505.04 L198.29,503.53 L200.51,502.06 L202.73,500.6 L204.95,499.18 L207.17,497.78 L209.39,496.4 L211.61,495.04 L213.83,493.7 L216.05,492.39 L218.27,491.09 L220.5,489.81 L222.72,488.55 L224.94,487.3 L227.16,486.08 L229.38,484.86 L231.6,483.67 L233.82,482.48 L236.04,481.31 L238.26,480.16 L240.48,479.02 L242.7,477.89 L244.92,476.77 L247.14,475.66 L249.36,474.57 L251.59,473.48 L253.81,472.4 L256.03,471.34 L258.25,470.28 L260.47,469.24 L262.69,468.2 L264.91,467.17 L267.13,466.15 L269.35,465.14 L271.57,464.13 L273.79,463.13 L276.01,462.14 L278.23,461.15 L280.45,460.17 L282.67,459.2 L284.9,458.23 L287.12,457.27 L289.34,456.32 L291.56,455.37 L293.78,454.42 L296,453.48 L298.22,452.54 L300.44,451.61 L302.66,450.68 L304.88,449.76 L307.1,448.84 L309.32,447.92 L311.54,447.01 L313.76,446.1 L315.98,445.19 L318.21,444.29 L320.43,443.39 L322.65,442.49 L324.87,441.59 L327.09,440.69 L329.31,439.8 L331.53,438.91 L333.75,438.02 L335.97,437.13 L338.19,436.25 L340.41,435.36 L342.63,434.47 L344.85,433.59 L347.07,432.71 L349.29,431.82 L351.52,430.94 L353.74,430.06 L355.96,429.18 L358.18,428.29 L360.4,427.41 L362.62,426.53 L364.84,425.64 L367.06,424.76 L369.28,423.87 L371.5,422.99 L373.72,422.1 L375.94,421.21 L378.16,420.32 L380.38,419.43 L382.61,418.53 L384.83,417.64 L387.05,416.74 L389.27,415.84 L391.49,414.94 L393.71,414.03 L395.93,413.12 L398.15,412.21 L400.37,411.3 L402.59,410.38 L404.81,409.46 L407.03,408.53 L409.25,407.6 L411.47,406.67 L413.69,405.73 L415.92,404.79 L418.14,403.84 L420.36,402.89 L422.58,401.93 L424.8,400.97 L427.02,400 L429.24,399.02 L431.46,398.04 L433.68,397.06 L435.9,396.06 L438.12,395.06 L440.34,394.05 L442.56,393.04 L444.78,392.02 L447,390.98 L449.23,389.94 L451.45,388.9 L453.67,387.84 L455.89,386.77 L458.11,385.7 L460.33,384.61 L462.55,383.51 L464.77,382.4 L466.99,381.29 L469.21,380.15 L471.43,379.01 L473.65,377.86 L475.87,376.69 L478.09,375.5 L480.31,374.31 L482.54,373.09 L484.76,371.87 L486.98,370.62 L489.2,369.36 L491.42,368.08 L493.64,366.79 L495.86,365.47 L498.08,364.14 L500.3,362.78 L502.52,361.4 L504.74,360 L506.96,358.58 L509.18,357.13 L511.4,355.66 L513.63,354.16 L515.85,352.63 L518.07,351.07 L520.29,349.47 L522.51,347.85 L524.73,346.19 L526.95,344.5 L529.17,342.76 L531.39,340.99 L533.61,339.17 L535.83,337.31 L538.05,335.39 L540.27,333.43 L542.49,331.41 L544.71,329.33 L546.94,327.19 L549.16,324.99 L551.38,322.71 L553.6,320.36 L555.82,317.92 L558.04,315.39 L560.26,312.77 L562.48,310.04 L563.67,308.53 L564.83,307.03 L565.96,305.53 L567.07,304.02 L568.15,302.52 L569.2,301.02 L570.24,299.52 L571.25,298.03 L572.23,296.53 L573.2,295.03 L574.14,293.53 L575.06,292.04 L575.96,290.54 L576.84,289.05 L577.7,287.55 L578.53,286.06 L579.35,284.56 L580.16,283.07 L580.94,281.57 L581.7,280.08 L582.45,278.58 L583.18,277.09 L583.9,275.59 L584.59,274.1 L585.28,272.6 L585.94,271.11 L586.59,269.61 L587.23,268.12 L587.85,266.62 L588.46,265.13 L589.05,263.63 L589.63,262.14 L590.2,260.64 L590.75,259.14 L591.29,257.64 L591.82,256.15 L592.34,254.65 L592.84,253.15 L593.34,251.65 L593.82,250.15 L594.29,248.65 L594.75,247.15 L595.2,245.65 L595.64,244.14 L596.07,242.64 L596.49,241.14 L596.9,239.63 L597.3,238.13 L597.69,236.62 L598.08,235.11 L598.45,233.61 L598.82,232.1 L599.17,230.59 L599.52,229.08 L599.86,227.57 L600.2,226.06 L600.52,224.54 L600.84,223.03 L601.15,221.52 L601.46,220 L601.75,218.48 L602.04,216.97 L602.33,215.45 L602.6,213.93 L602.87,212.41 L603.14,210.89 L603.4,209.37 L603.65,207.85 L603.9,206.32 L604.14,204.8 L604.37,203.27 L604.6,201.74 L604.83,200.22 L605.05,198.69 L605.26,197.16 L605.47,195.63 L605.68,194.09 L605.88,192.56 L606.08,191.03 L606.27,189.49 L606.46,187.95 L606.64,186.42 L606.82,184.88 L606.99,183.34 L607.16,181.8 L607.33,180.25 L607.49,178.71 L607.65,177.17 L607.81,175.62 L607.96,174.07 L608.11,172.52 L608.25,170.98 L608.39,169.42 L608.53,167.87 L608.67,166.32 L608.8,164.77 L608.93,163.21 L609.06,161.65 L609.18,160.1 L609.3,158.54 L609.42,156.98 L609.53,155.41 L609.65,153.85 L609.76,152.29 L609.86,150.72 L609.97,149.16 L610.07,147.59 L610.17,146.02 L610.27,144.45 L610.37,142.88 L610.46,141.3 L610.55,139.73 L610.64,138.15 L610.73,136.58 L610.81,135 L610.9,133.42 L610.98,131.84 L611.06,130.26 L611.14,128.68 L611.21,127.09 L611.29,125.5 L611.36,123.92 L611.43,122.33 L611.5,120.74 L611.57,119.15 L611.63,117.56 L611.7,115.96 L611.76,114.37 L611.82,112.77 L611.88,111.17 L611.94,109.57 L612,107.97 L612.06,106.37 L612.11,104.77 L612.17,103.16 L612.22,101.56 L612.27,99.95 L612.32,98.34 L612.37,96.73 L612.42,95.12 L612.46,93.51 L612.51,91.9 L612.55,90.28 L612.6,88.67 L612.64,87.05 L612.68,85.43 L612.72,83.81 L612.76,82.19 L612.8,80.56 L612.84,78.94 L612.88,77.31 L612.91,75.68 L612.95,74.06 L612.98,72.43 L613.02,70.79 L613.05,69.16 L613.08,67.53 L613.11,65.89 L613.15,64.25 L613.18,62.62 L613.21,60.98 L613.23,59.33 L613.26,57.69 L613.29,56.05 L613.32,54.4 L613.34,52.76 L613.37,51.11 L613.39,49.46 L613.42,47.81 L613.44,46.16 L613.47,44.5 L613.49,42.85 L613.51,41.19 L613.53,39.53 L613.55,37.87 L613.58,36.21 L613.6,34.55 L613.62,32.89 L613.64,31.22 L613.65,29.56 L613.67,27.89 L613.69,26.22 L613.71,24.55 L613.73,22.88 L613.74,21.21 L613.76,19.53 L613.78,17.86 L613.79,16.18 L613.81,14.5 L613.82,12.82 L613.84,11.14 L613.85,9.46 L613.87,7.77 L613.88,6.09 L613.89,4.4 L613.91,2.71 L613.92,1.02 L613.93,-0.67 L613.94,-2.36 L613.96,-4.06 L613.97,-5.75 L613.98,-7.45 L613.99,-9.15 L614,-10.85 L614.01,-12.55 L614.02,-14.25 L614.03,-15.95 L614.04,-17.23 L614.05,-17.23 L614.06,-17.23 L614.07,-17.23 L614.08,-17.23 L614.09,-17.23 L614.1,-17.23 L614.11,-17.23 L614.12,-17.23 L614.13,-17.23 L614.14,-17.23 L614.15,-17.23 L614.16,-17.23 L614.17,-17.23 L614.18,-17.23 L614.19,-17.23 L614.2,-17.23 L614.21,-17.23 L614.22,-17.23 L614.23,-17.23 L614.24,-17.23 L614.25,-17.23 L614.26,-17.23 L614.27,-17.23 L614.28,-17.23 L614.29,-17.23 L614.3,-17.23 L614.31,-17.23 L614.32,-17.23 L614.33,-17.23 L614.34,-17.23 L614.35,-17.23 L614.36,-17.23 L614.37,-17.23 L614.38,-17.23 L614.39,-17.23 L614.4,-17.23 L614.41,-17.23 L614.42,-17.23 L614.43,-17.23 L614.44,-17.23 L614.45,-17.23 L614.46,-17.23" stroke="#EB6235" stroke-width="3.7"/>
<path d="M95.06,888.95 L95.08,888.95 L95.09,888.95 L95.11,888.95 L95.13,888.95 L95.15,888.95 L95.17,888.95 L95.19,888.95 L95.21,888.95 L95.23,888.95 L95.25,888.95 L95.28,888.95 L95.3,888.95 L95.32,888.95 L95.35,888.95 L95.38,888.95 L95.4,888.95 L95.43,888.95 L95.46,888.95 L95.49,888.95 L95.52,888.95 L95.56,888.95 L95.59,888.95 L95.62,888.95 L95.66,888.95 L95.7,888.95 L95.73,888.95 L95.77,888.95 L95.81,888.95 L95.86,888.95 L95.9,888.95 L95.95,888.95 L95.99,888.95 L96.04,888.95 L96.09,888.95 L96.14,888.95 L96.2,888.95 L96.25,888.95 L96.31,888.95 L96.37,888.95 L96.43,888.95 L96.49,888.95 L96.56,888.95 L96.62,888.95 L96.69,888.95 L96.77,888.95 L96.84,888.95 L96.92,888.95 L97,888.95 L97.08,888.95 L97.17,888.95 L97.25,888.95 L97.34,888.95 L97.44,888.95 L97.54,888.95 L97.64,888.95 L97.74,888.95 L97.85,888.95 L97.96,888.95 L98.08,888.95 L98.19,888.95 L98.32,888.95 L98.44,888.95 L98.58,888.95 L98.71,888.95 L98.85,888.95 L99,888.95 L99.15,888.95 L99.3,888.95 L99.46,886.73 L99.63,884.02 L99.8,881.31 L99.98,878.6 L100.16,875.89 L100.35,873.18 L100.55,870.47 L100.75,867.76 L100.96,865.05 L101.18,862.34 L101.41,859.63 L101.64,856.92 L101.88,854.21 L102.13,851.5 L102.38,848.79 L102.65,846.07 L102.92,843.36 L103.21,840.65 L103.5,837.94 L103.8,835.23 L104.12,832.52 L104.44,829.81 L104.77,827.1 L105.12,824.38 L105.48,821.67 L105.85,818.96 L106.23,816.25 L106.63,813.54 L107.04,810.82 L107.46,808.11 L107.9,805.4 L108.35,802.69 L108.82,799.97 L109.3,797.26 L109.81,794.55 L110.32,791.83 L110.86,789.12 L111.41,786.4 L111.98,783.69 L112.57,780.97 L113.18,778.26 L113.82,775.54 L114.47,772.82 L115.15,770.11 L115.85,767.39 L116.57,764.67 L117.31,761.95 L118.09,759.23 L118.89,756.51 L119.71,753.79 L120.56,751.07 L122.79,744.39 L125.01,738.2 L127.23,732.45 L129.45,727.07 L131.67,722.02 L133.89,717.26 L136.11,712.75 L138.33,708.47 L140.55,704.4 L142.77,700.52 L144.99,696.8 L147.21,693.24 L149.43,689.82 L151.65,686.54 L153.88,683.37 L156.1,680.31 L158.32,677.36 L160.54,674.5 L162.76,671.73 L164.98,669.05 L167.2,666.44 L169.42,663.91 L171.64,661.44 L173.86,659.04 L176.08,656.7 L178.3,654.42 L180.52,652.19 L182.74,650.01 L184.96,647.88 L187.19,645.8 L189.41,643.76 L191.63,641.76 L193.85,639.8 L196.07,637.88 L198.29,636 L200.51,634.15 L202.73,632.33 L204.95,630.54 L207.17,628.79 L209.39,627.06 L211.61,625.36 L213.83,623.68 L216.05,622.03 L218.27,620.41 L220.5,618.8 L222.72,617.22 L224.94,615.66 L227.16,614.12 L229.38,612.6 L231.6,611.1 L233.82,609.62 L236.04,608.15 L238.26,606.7 L240.48,605.27 L242.7,603.85 L244.92,602.45 L247.14,601.06 L249.36,599.68 L251.59,598.32 L253.81,596.97 L256.03,595.64 L258.25,594.31 L260.47,593 L262.69,591.69 L264.91,590.4 L267.13,589.12 L269.35,587.84 L271.57,586.58 L273.79,585.32 L276.01,584.08 L278.23,582.84 L280.45,581.61 L282.67,580.39 L284.9,579.17 L287.12,577.96 L289.34,576.76 L291.56,575.56 L293.78,574.37 L296,573.19 L298.22,572.01 L300.44,570.84 L302.66,569.67 L304.88,568.51 L307.1,567.35 L309.32,566.2 L311.54,565.05 L313.76,563.9 L315.98,562.76 L318.21,561.62 L320.43,560.48 L322.65,559.35 L324.87,558.22 L327.09,557.09 L329.31,555.96 L331.53,554.84 L333.75,553.72 L335.97,552.6 L338.19,551.48 L340.41,550.36 L342.63,549.24 L344.85,548.13 L347.07,547.01 L349.29,545.9 L351.52,544.79 L353.74,543.67 L355.96,542.56 L358.18,541.44 L360.4,540.33 L362.62,539.21 L364.84,538.1 L367.06,536.98 L369.28,535.86 L371.5,534.74 L373.72,533.62 L375.94,532.49 L378.16,531.37 L380.38,530.24 L382.61,529.11 L384.83,527.98 L387.05,526.84 L389.27,525.7 L391.49,524.56 L393.71,523.41 L395.93,522.26 L398.15,521.11 L400.37,519.95 L402.59,518.79 L404.81,517.62 L407.03,516.45 L409.25,515.27 L411.47,514.09 L413.69,512.9 L415.92,511.71 L418.14,510.51 L420.36,509.3 L422.58,508.09 L424.8,506.87 L427.02,505.64 L429.24,504.4 L431.46,503.16 L433.68,501.91 L435.9,500.65 L438.12,499.38 L440.34,498.1 L442.56,496.81 L444.78,495.52 L447,494.21 L449.23,492.89 L451.45,491.56 L453.67,490.22 L455.89,488.86 L458.11,487.49 L460.33,486.12 L462.55,484.72 L464.77,483.32 L466.99,481.89 L469.21,480.46 L471.43,479 L473.65,477.54 L475.87,476.05 L478.09,474.55 L480.31,473.03 L482.54,471.48 L484.76,469.92 L486.98,468.34 L489.2,466.74 L491.42,465.12 L493.64,463.47 L495.86,461.8 L498.08,460.1 L500.3,458.37 L502.52,456.62 L504.74,454.84 L506.96,453.03 L509.18,451.19 L511.4,449.31 L513.63,447.4 L515.85,445.46 L518.07,443.47 L520.29,441.45 L522.51,439.38 L524.73,437.27 L526.95,435.12 L529.17,432.91 L531.39,430.65 L533.61,428.34 L535.83,425.97 L538.05,423.53 L540.27,421.04 L542.49,418.47 L544.71,415.82 L546.94,413.1 L549.16,410.3 L551.38,407.4 L553.6,404.4 L555.82,401.3 L558.04,398.09 L560.26,394.75 L562.48,391.28 L563.67,389.36 L564.83,387.45 L565.96,385.54 L567.07,383.63 L568.15,381.72 L569.2,379.81 L570.24,377.91 L571.25,376 L572.23,374.1 L573.2,372.19 L574.14,370.29 L575.06,368.39 L575.96,366.49 L576.84,364.59 L577.7,362.69 L578.53,360.79 L579.35,358.89 L580.16,356.99 L580.94,355.09 L581.7,353.19 L582.45,351.29 L583.18,349.39 L583.9,347.49 L584.59,345.6 L585.28,343.7 L585.94,341.8 L586.59,339.9 L587.23,338 L587.85,336.1 L588.46,334.2 L589.05,332.31 L589.63,330.41 L590.2,328.51 L590.75,326.61 L591.29,324.71 L591.82,322.8 L592.34,320.9 L592.84,319 L593.34,317.1 L593.82,315.2 L594.29,313.29 L594.75,311.39 L595.2,309.48 L595.64,307.58 L596.07,305.67 L596.49,303.76 L596.9,301.86 L597.3,299.95 L597.69,298.04 L598.08,296.13 L598.45,294.22 L598.82,292.31 L599.17,290.4 L599.52,288.48 L599.86,286.57 L600.2,284.65 L600.52,282.74 L600.84,280.82 L601.15,278.9 L601.46,276.98 L601.75,275.06 L602.04,273.14 L602.33,271.22 L602.6,269.3 L602.87,267.38 L603.14,265.45 L603.4,263.52 L603.65,261.6 L603.9,259.67 L604.14,257.74 L604.37,255.81 L604.6,253.88 L604.83,251.95 L605.05,250.01 L605.26,248.08 L605.47,246.14 L605.68,244.2 L605.88,242.26 L606.08,240.32 L606.27,238.38 L606.46,236.44 L606.64,234.5 L606.82,232.55 L606.99,230.61 L607.16,228.66 L607.33,226.71 L607.49,224.76 L607.65,222.81 L607.81,220.86 L607.96,218.9 L608.11,216.95 L608.25,214.99 L608.39,213.03 L608.53,211.07 L608.67,209.11 L608.8,207.15 L608.93,205.19 L609.06,203.22 L609.18,201.26 L609.3,199.29 L609.42,197.32 L609.53,195.35 L609.65,193.38 L609.76,191.41 L609.86,189.43 L609.97,187.46 L610.07,185.48 L610.17,183.5 L610.27,181.52 L610.37,179.54 L610.46,177.56 L610.55,175.58 L610.64,173.59 L610.73,171.6 L610.81,169.61 L610.9,167.62 L610.98,165.63 L611.06,163.64 L611.14,161.65 L611.21,159.65 L611.29,157.65 L611.36,155.65 L611.43,153.65 L611.5,151.65 L611.57,149.65 L611.63,147.64 L611.7,145.64 L611.76,143.63 L611.82,141.62 L611.88,139.61 L611.94,137.6 L612,135.59 L612.06,133.57 L612.11,131.55 L612.17,129.54 L612.22,127.52 L612.27,125.5 L612.32,123.47 L612.37,121.45 L612.42,119.42 L612.46,117.4 L612.51,115.37 L612.55,113.34 L612.6,111.3 L612.64,109.27 L612.68,107.24 L612.72,105.2 L612.76,103.16 L612.8,101.12 L612.84,99.08 L612.88,97.04 L612.91,95 L612.95,92.95 L612.98,90.9 L613.02,88.85 L613.05,86.8 L613.08,84.75 L613.11,82.7 L613.15,80.64 L613.18,78.59 L613.21,76.53 L613.23,74.47 L613.26,72.41 L613.29,70.35 L613.32,68.28 L613.34,66.22 L613.37,64.15 L613.39,62.08 L613.42,60.01 L613.44,57.94 L613.47,55.86 L613.49,53.79 L613.51,51.71 L613.53,49.63 L613.55,47.55 L613.58,45.47 L613.6,43.39 L613.62,41.3 L613.64,39.22 L613.65,37.13 L613.67,35.04 L613.69,32.95 L613.71,30.86 L613.73,28.76 L613.74,26.67 L613.76,24.57 L613.78,22.47 L613.79,20.37 L613.81,18.27 L613.82,16.17 L613.84,14.06 L613.85,11.95 L613.87,9.85 L613.88,7.74 L613.89,5.62 L613.91,3.51 L613.92,1.4 L613.93,-0.72 L613.94,-2.84 L613.96,-4.96 L613.97,-7.08 L613.98,-9.2 L613.99,-11.32 L614,-13.45 L614.01,-15.58 L614.02,-17.23 L614.03,-17.23 L614.04,-17.23 L614.05,-17.23 L614.06,-17.23 L614.07,-17.23 L614.08,-17.23 L614.09,-17.23 L614.1,-17.23 L614.11,-17.23 L614.12,-17.23 L614.13,-17.23 L614.14,-17.23 L614.15,-17.23 L614.16,-17.23 L614.17,-17.23 L614.18,-17.23 L614.19,-17.23 L614.2,-17.23 L614.21,-17.23 L614.22,-17.23 L614.23,-17.23 L614.24,-17.23 L614.25,-17.23 L614.26,-17.23 L614.27,-17.23 L614.28,-17.23 L614.29,-17.23 L614.3,-17.23 L614.31,-17.23 L614.32,-17.23 L614.33,-17.23 L614.34,-17.23 L614.35,-17.23 L614.36,-17.23 L614.37,-17.23 L614.38,-17.23 L614.39,-17.23 L614.4,-17.23 L614.41,-17.23 L614.42,-17.23 L614.43,-17.23 L614.44,-17.23 L614.45,-17.23 L614.46,-17.23" stroke="#8778B3" stroke-width="3.7"/>
<path d="M95.06,43.85 L95.08,43.85 L95.09,43.85 L95.11,43.85 L95.13,43.85 L95.15,43.85 L95.17,43.85 L95.19,43.85 L95.21,43.85 L95.23,43.85 L95.25,43.85 L95.28,43.85 L95.3,43.85 L95.32,43.85 L95.35,43.85 L95.38,43.85 L95.4,43.85 L95.43,43.85 L95.46,43.85 L95.49,43.85 L95.52,43.85 L95.56,43.85 L95.59,43.85 L95.62,43.85 L95.66,43.85 L95.7,43.85 L95.73,43.85 L95.77,43.85 L95.81,43.85 L95.86,43.85 L95.9,43.85 L95.95,43.85 L95.99,43.85 L96.04,43.85 L96.09,43.85 L96.14,43.85 L96.2,43.85 L96.25,43.85 L96.31,43.85 L96.37,43.85 L96.43,43.85 L96.49,43.85 L96.56,43.85 L96.62,43.85 L96.69,43.85 L96.77,43.85 L96.84,43.85 L96.92,43.85 L97,43.85 L97.08,43.85 L97.17,43.85 L97.25,43.85 L97.34,43.85 L97.44,43.85 L97.54,43.85 L97.64,43.85 L97.74,43.85 L97.85,43.85 L97.96,43.85 L98.08,43.85 L98.19,43.85 L98.32,43.85 L98.44,43.85 L98.58,43.85 L98.71,43.85 L98.85,43.85 L99,43.85 L99.15,43.85 L99.3,43.85 L99.46,43.85 L99.63,43.85 L99.8,43.85 L99.98,43.85 L100.16,43.85 L100.35,43.85 L100.55,43.85 L100.75,43.85 L100.96,43.85 L101.18,43.85 L101.41,43.85 L101.64,43.85 L101.88,43.85 L102.13,43.85 L102.38,43.85 L102.65,43.85 L102.92,43.85 L103.21,43.85 L103.5,43.85 L103.8,43.85 L104.12,43.85 L104.44,43.85 L104.77,43.85 L105.12,43.85 L105.48,43.85 L105.85,43.85 L106.23,43.85 L106.63,43.85 L107.04,43.85 L107.46,43.85 L107.9,43.85 L108.35,43.84 L108.82,43.84 L109.3,43.84 L109.81,43.84 L110.32,43.84 L110.86,43.84 L111.41,43.84 L111.98,43.84 L112.57,43.84 L113.18,43.84 L113.82,43.84 L114.47,43.84 L115.15,43.84 L115.85,43.84 L116.57,43.84 L117.31,43.84 L118.09,43.84 L118.89,43.84 L119.71,43.83 L120.56,43.83 L122.79,43.83 L125.01,43.83 L127.23,43.83 L129.45,43.82 L131.67,43.82 L133.89,43.82 L136.11,43.81 L138.33,43.81 L140.55,43.81 L142.77,43.8 L144.99,43.8 L147.21,43.79 L149.43,43.79 L151.65,43.79 L153.88,43.78 L156.1,43.78 L158.32,43.77 L160.54,43.77 L162.76,43.76 L164.98,43.76 L167.2,43.75 L169.42,43.75 L171.64,43.75 L173.86,43.74 L176.08,43.74 L178.3,43.73 L180.52,43.73 L182.74,43.72 L184.96,43.72 L187.19,43.71 L189.41,43.71 L191.63,43.7 L193.85,43.69 L196.07,43.69 L198.29,43.68 L200.51,43.68 L202.73,43.67 L204.95,43.67 L207.17,43.66 L209.39,43.66 L211.61,43.65 L213.83,43.64 L216.05,43.63 L218.27,43.63 L220.5,43.62 L222.72,43.61 L224.94,43.6 L227.16,43.59 L229.38,43.59 L231.6,43.58 L233.82,43.57 L236.04,43.56 L238.26,43.55 L240.48,43.54 L242.7,43.53 L244.92,43.52 L247.14,43.51 L249.36,43.5 L251.59,43.49 L253.81,43.48 L256.03,43.47 L258.25,43.46 L260.47,43.45 L262.69,43.44 L264.91,43.43 L267.13,43.42 L269.35,43.41 L271.57,43.39 L273.79,43.38 L276.01,43.37 L278.23,43.36 L280.45,43.35 L282.67,43.34 L284.9,43.33 L287.12,43.32 L289.34,43.3 L291.56,43.29 L293.78,43.28 L296,43.27 L298.22,43.26 L300.44,43.25 L302.66,43.23 L304.88,43.22 L307.1,43.21 L309.32,43.2 L311.54,43.19 L313.76,43.18 L315.98,43.16 L318.21,43.15 L320.43,43.14 L322.65,43.13 L324.87,43.12 L327.09,43.1 L329.31,43.09 L331.53,43.08 L333.75,43.07 L335.97,43.05 L338.19,43.04 L340.41,43.03 L342.63,43.02 L344.85,43 L347.07,42.99 L349.29,42.98 L351.52,42.96 L353.74,42.95 L355.96,42.93 L358.18,42.92 L360.4,42.91 L362.62,42.89 L364.84,42.88 L367.06,42.86 L369.28,42.85 L371.5,42.83 L373.72,42.82 L375.94,42.8 L378.16,42.78 L380.38,42.77 L382.61,42.75 L384.83,42.74 L387.05,42.72 L389.27,42.7 L391.49,42.69 L393.71,42.67 L395.93,42.65 L398.15,42.63 L400.37,42.61 L402.59,42.6 L404.81,42.58 L407.03,42.56 L409.25,42.54 L411.47,42.52 L413.69,42.5 L415.92,42.47 L418.14,42.45 L420.36,42.43 L422.58,42.4 L424.8,42.38 L427.02,42.35 L429.24,42.33 L431.46,42.3 L433.68,42.27 L435.9,42.25 L438.12,42.22 L440.34,42.19 L442.56,42.16 L444.78,42.14 L447,42.11 L449.23,42.08 L451.45,42.05 L453.67,42.03 L455.89,42 L458.11,41.97 L460.33,41.94 L462.55,41.92 L464.77,41.89 L466.99,41.86 L469.21,41.83 L471.43,41.81 L473.65,41.78 L475.87,41.75 L478.09,41.72 L480.31,41.69 L482.54,41.67 L484.76,41.64 L486.98,41.61 L489.2,41.58 L491.42,41.55 L493.64,41.52 L495.86,41.49 L498.08,41.46 L500.3,41.43 L502.52,41.39 L504.74,41.36 L506.96,41.33 L509.18,41.29 L511.4,41.26 L513.63,41.22 L515.85,41.18 L518.07,41.13 L520.29,41.08 L522.51,41.03 L524.73,40.98 L526.95,40.93 L529.17,40.88 L531.39,40.83 L533.61,40.79 L535.83,40.75 L538.05,40.71 L540.27,40.68 L542.49,40.66 L544.71,40.64 L546.94,40.63 L549.16,40.62 L551.38,40.61 L553.6,40.6 L555.82,40.59 L558.04,40.58 L560.26,40.57 L562.48,40.57 L563.67,40.57 L564.83,40.57 L565.96,40.56 L567.07,40.56 L568.15,40.57 L569.2,40.58 L570.24,40.6 L571.25,40.62 L572.23,40.66 L573.2,40.7 L574.14,40.74 L575.06,40.78 L575.96,40.83 L576.84,40.88 L577.7,40.93 L578.53,40.98 L579.35,41.03 L580.16,41.09 L580.94,41.15 L581.7,41.22 L582.45,41.3 L583.18,41.38 L583.9,41.46 L584.59,41.55 L585.28,41.65 L585.94,41.75 L586.59,41.85 L587.23,41.95 L587.85,42.05 L588.46,42.16 L589.05,42.27 L589.63,42.38 L590.2,42.49 L590.75,42.61 L591.29,42.75 L591.82,42.9 L592.34,43.05 L592.84,43.22 L593.34,43.39 L593.82,43.57 L594.29,43.76 L594.75,43.95 L595.2,44.14 L595.64,44.34 L596.07,44.55 L596.49,44.77 L596.9,45.01 L597.3,45.26 L597.69,45.52 L598.08,45.8 L598.45,46.08 L598.82,46.37 L599.17,46.67 L599.52,46.97 L599.86,47.28 L600.2,47.6 L600.52,47.96 L600.84,48.35 L601.15,48.78 L601.46,49.25 L601.47,49.28 L601.49,49.3 L601.5,49.32 L601.51,49.34 L601.52,49.36 L601.54,49.38 L601.55,49.4 L601.56,49.42 L601.58,49.44 L601.59,49.46 L601.6,49.48 L601.62,49.5 L601.63,49.52 L601.64,49.55 L601.65,49.57 L601.67,49.59 L601.68,49.61 L601.69,49.63 L601.71,49.65 L601.72,49.67 L601.73,49.69 L601.75,49.72 L601.75,49.73 L601.76,49.74 L601.77,49.76 L601.79,49.78 L601.8,49.81 L601.81,49.83 L601.82,49.85 L601.84,49.88 L601.85,49.9 L601.86,49.93 L601.88,49.95 L601.89,49.98 L601.9,50 L601.92,50.03 L601.93,50.06 L601.94,50.08 L601.95,50.11 L601.97,50.14 L601.98,50.17 L601.99,50.2 L602.01,50.23 L602.02,50.26 L602.03,50.29 L602.04,50.32 L602.05,50.32 L602.06,50.36 L602.07,50.39 L602.08,50.42 L602.1,50.46 L602.11,50.5 L602.12,50.53 L602.14,50.57 L602.15,50.61 L602.16,50.65 L602.18,50.69 L602.19,50.73 L602.2,50.77 L602.22,50.81 L602.23,50.85 L602.24,50.9 L602.25,50.94 L602.27,50.99 L602.28,51.04 L602.29,51.08 L602.31,51.13 L602.32,51.18 L602.33,51.21 L602.33,51.23 L602.35,51.29 L602.36,51.34 L602.37,51.39 L602.38,51.45 L602.4,51.5 L602.41,51.56 L602.42,51.62 L602.44,51.68 L602.45,51.74 L602.46,51.81 L602.48,51.87 L602.49,51.93 L602.5,52 L602.51,52.07 L602.53,52.14 L602.54,52.22 L602.55,52.31 L602.57,52.41 L602.58,52.51 L602.59,52.63 L602.6,52.73 L602.61,52.75 L602.62,52.89 L602.63,53.03 L602.65,53.19 L602.66,53.36 L602.67,53.54 L602.68,53.73 L602.7,53.94 L602.71,54.16 L602.72,54.4 L602.74,54.65 L602.75,54.92 L602.76,55.2 L602.78,55.5 L602.79,55.82 L602.8,56.15 L602.81,56.51 L602.83,56.88 L602.84,57.27 L602.85,57.67 L602.87,58.1 L602.87,58.37 L602.88,58.55 L602.89,59.02 L602.91,59.53 L602.92,60.4 L602.93,61.66 L602.94,63.24 L602.96,65.04 L602.97,66.98 L602.98,68.98 L603,70.94 L603.01,71.52 L603.02,71.52 L603.04,71.52 L603.05,71.52 L603.06,71.52 L603.08,70.32 L603.09,69.23 L603.1,68.27 L603.11,67.41 L603.13,66.62 L603.14,65.97 L603.14,65.91 L603.15,65.24 L603.17,64.63 L603.18,64.06 L603.19,63.52 L603.21,63.02 L603.22,62.54 L603.23,62.09 L603.24,61.66 L603.26,61.25 L603.27,60.86 L603.28,60.49 L603.3,60.13 L603.31,59.79 L603.32,59.45 L603.34,59.13 L603.35,58.83 L603.36,58.53 L603.37,58.24 L603.39,57.96 L603.4,57.75 L603.4,57.69 L603.41,57.42 L603.43,57.17 L603.44,56.92 L603.45,56.68 L603.47,56.44 L603.48,56.21 L603.49,55.98 L603.51,55.76 L603.52,55.55 L603.53,55.34 L603.54,55.13 L603.56,54.93 L603.57,54.74 L603.58,54.54 L603.6,54.36 L603.61,54.17 L603.62,53.99 L603.64,53.81 L603.65,53.64 L603.65,53.61 L603.66,53.46 L603.67,53.29 L603.69,53.13 L603.7,52.96 L603.71,52.8 L603.73,52.65 L603.74,52.49 L603.75,52.34 L603.77,52.19 L603.78,52.04 L603.79,51.89 L603.8,51.75 L603.82,51.6 L603.83,51.46 L603.84,51.32 L603.86,51.19 L603.87,51.05 L603.88,50.92 L603.9,50.79 L603.9,50.78 L603.91,50.66 L603.92,50.53 L603.94,50.4 L603.95,50.28 L603.96,50.15 L603.97,50.03 L603.99,49.91 L604,49.79 L604.01,49.67 L604.03,49.55 L604.04,49.44 L604.05,49.32 L604.07,49.21 L604.08,49.1 L604.09,48.99 L604.1,48.88 L604.12,48.77 L604.13,48.66 L604.14,48.6 L604.14,48.55 L604.16,48.45 L604.17,48.34 L604.18,48.24 L604.2,48.13 L604.21,48.03 L604.22,47.93 L604.23,47.83 L604.25,47.73 L604.26,47.63 L604.27,47.53 L604.29,47.44 L604.3,47.34 L604.31,47.25 L604.33,47.15 L604.34,47.06 L604.35,46.96 L604.37,46.87 L604.37,46.81 L604.38,46.78 L604.39,46.69 L604.4,46.6 L604.42,46.51 L604.43,46.42 L604.44,46.33 L604.46,46.24 L604.47,46.16 L604.48,46.07 L604.5,45.98 L604.51,45.9 L604.52,45.81 L604.53,45.73 L604.55,45.64 L604.56,45.56 L604.57,45.48 L604.59,45.4 L604.6,45.31 L604.6,45.28 L604.61,45.23 L604.63,45.15 L604.64,45.07 L604.65,44.99 L604.66,44.91 L604.68,44.84 L604.69,44.76 L604.7,44.68 L604.72,44.6 L604.73,44.52 L604.74,44.45 L604.76,44.37 L604.77,44.3 L604.78,44.22 L604.8,44.15 L604.81,44.07 L604.82,44 L604.83,43.95 L604.83,43.92 L604.85,43.85 L604.86,43.78 L604.87,43.7 L604.89,43.63 L604.9,43.56 L604.91,43.49 L604.93,43.42 L604.94,43.35 L604.95,43.28 L604.96,43.21 L604.98,43.14 L604.99,43.07 L605,43 L605.02,42.93 L605.03,42.86 L605.04,42.79 L605.05,42.76 L605.06,42.72 L605.07,42.66 L605.08,42.59 L605.09,42.52 L605.11,42.46 L605.12,42.39 L605.13,42.32 L605.15,42.26 L605.16,42.19 L605.17,42.13 L605.19,42.06 L605.2,42 L605.21,41.93 L605.23,41.87 L605.24,41.8 L605.25,41.74 L605.26,41.67 L605.28,41.61 L605.29,41.55 L605.3,41.49 L605.32,41.42 L605.33,41.36 L605.34,41.3 L605.36,41.24 L605.37,41.17 L605.38,41.11 L605.39,41.05 L605.41,40.99 L605.42,40.93 L605.43,40.87 L605.45,40.81 L605.46,40.75 L605.47,40.69 L605.47,40.68 L605.49,40.63 L605.5,40.57 L605.51,40.51 L605.52,40.45 L605.54,40.39 L605.55,40.33 L605.56,40.27 L605.58,40.21 L605.59,40.15 L605.6,40.1 L605.62,40.04 L605.63,39.98 L605.64,39.92 L605.66,39.86 L605.67,39.81 L605.68,39.76 L605.68,39.75 L605.69,39.69 L605.71,39.64 L605.72,39.58 L605.73,39.52 L605.75,39.47 L605.76,39.41 L605.77,39.35 L605.79,39.3 L605.8,39.24 L605.81,39.19 L605.82,39.13 L605.84,39.07 L605.85,39.02 L605.86,38.96 L605.88,38.91 L605.88,38.89 L605.89,38.85 L605.9,38.8 L605.92,38.75 L605.93,38.69 L605.94,38.64 L605.95,38.58 L605.97,38.53 L605.98,38.47 L605.99,38.42 L606.01,38.37 L606.02,38.31 L606.03,38.26 L606.05,38.21 L606.06,38.15 L606.07,38.1 L606.08,38.08 L606.09,38.05 L606.1,37.99 L606.11,37.94 L606.12,37.89 L606.14,37.84 L606.15,37.78 L606.16,37.73 L606.18,37.68 L606.19,37.63 L606.2,37.57 L606.22,37.52 L606.23,37.47 L606.24,37.42 L606.25,37.37 L606.27,37.32 L606.27,37.31 L606.28,37.26 L606.29,37.21 L606.31,37.16 L606.32,37.11 L606.33,37.06 L606.35,37.01 L606.36,36.96 L606.37,36.91 L606.38,36.86 L606.4,36.81 L606.41,36.76 L606.42,36.7 L606.44,36.65 L606.45,36.6 L606.46,36.58 L606.46,36.55 L606.48,36.5 L606.49,36.45 L606.5,36.4 L606.52,36.35 L606.53,36.3 L606.54,36.25 L606.55,36.2 L606.57,36.16 L606.58,36.11 L606.59,36.06 L606.61,36.01 L606.62,35.96 L606.63,35.91 L606.64,35.89 L606.65,35.86 L606.66,35.81 L606.67,35.76 L606.82,35.22 L606.99,34.58 L607.16,33.96 L607.33,33.36 L607.49,32.78 L607.65,32.22 L607.81,31.67 L607.96,31.14 L608.11,30.62 L608.25,30.12 L608.39,29.62 L608.53,29.13 L608.67,28.66 L608.8,28.19 L608.93,27.73 L609.06,27.28 L609.18,26.84 L609.3,26.4 L609.42,25.97 L609.53,25.54 L609.65,25.13 L609.76,24.71 L609.86,24.3 L609.97,23.9 L610.07,23.5 L610.17,23.11 L610.27,22.72 L610.37,22.33 L610.46,21.95 L610.55,21.57 L610.64,21.19 L610.73,20.82 L610.81,20.45 L610.9,20.08 L610.98,19.72 L611.06,19.36 L611.14,19 L611.21,18.64 L611.29,18.29 L611.36,17.94 L611.43,17.59 L611.5,17.24 L611.57,16.9 L611.63,16.55 L611.7,16.21 L611.76,15.87 L611.82,15.53 L611.88,15.2 L611.94,14.86 L612,14.53 L612.06,14.2 L612.11,13.87 L612.17,13.54 L612.22,13.21 L612.27,12.89 L612.32,12.56 L612.37,12.24 L612.42,11.92 L612.46,11.6 L612.51,11.28 L612.55,10.96 L612.6,10.64 L612.64,10.32 L612.68,10.01 L612.72,9.69 L612.76,9.38 L612.8,9.07 L612.84,8.76 L612.88,8.44 L612.91,8.13 L612.95,7.82 L612.98,7.51 L613.02,7.21 L613.05,6.9 L613.08,6.59 L613.11,6.29 L613.15,5.98 L613.18,5.67 L613.21,5.37 L613.23,5.07 L613.26,4.76 L613.29,4.46 L613.32,4.16 L613.34,3.86 L613.37,3.56 L613.39,3.26 L613.42,2.96 L613.44,2.66 L613.47,2.36 L613.49,2.06 L613.51,1.76 L613.53,1.46 L613.55,1.17 L613.58,0.87 L613.6,0.57 L613.62,0.28 L613.64,-0.02 L613.65,-0.31 L613.67,-0.61 L613.69,-0.9 L613.71,-1.2 L613.73,-1.49 L613.74,-1.79 L613.76,-2.08 L613.78,-2.37 L613.79,-2.67 L613.81,-2.96 L613.82,-3.25 L613.84,-3.54 L613.85,-3.83 L613.87,-4.13 L613.88,-4.42 L613.89,-4.71 L613.91,-5 L613.92,-5.29 L613.93,-5.58 L613.94,-5.87 L613.96,-6.16 L613.97,-6.45 L613.98,-6.74 L613.99,-7.03 L614,-7.32 L614.01,-7.61 L614.02,-7.89 L614.03,-8.18 L614.04,-8.47 L614.05,-8.76 L614.06,-9.05 L614.07,-9.33 L614.08,-9.62 L614.09,-9.91 L614.1,-10.2 L614.11,-10.48 L614.11,-10.77 L614.12,-11.06 L614.13,-11.34 L614.14,-11.63 L614.15,-11.92 L614.15,-12.2 L614.16,-12.49 L614.17,-12.78 L614.17,-13.06 L614.18,-13.35 L614.19,-13.63 L614.19,-13.92 L614.2,-14.2 L614.21,-14.49 L614.21,-14.77 L614.22,-15.06 L614.22,-15.34 L614.23,-15.63 L614.24,-15.91 L614.24,-16.2 L614.25,-16.48 L614.25,-16.77 L614.26,-17.05 L614.26,-17.23 L614.27,-17.23 L614.28,-17.23 L614.29,-17.23 L614.3,-17.23 L614.31,-17.23 L614.32,-17.23 L614.33,-17.23 L614.34,-17.23 L614.35,-17.23 L614.36,-17.23 L614.37,-17.23 L614.38,-17.23 L614.39,-17.23 L614.4,-17.23 L614.41,-17.23 L614.42,-17.23 L614.43,-17.23 L614.44,-17.23 L614.45,-17.23 L614.46,-17.23" stroke="#5E81B5" stroke-width="3.7" stroke-dasharray="8.5 2.35"/>
<path d="M95.06,81.42 L95.08,81.42 L95.09,81.42 L95.11,81.42 L95.13,81.42 L95.15,81.42 L95.17,81.42 L95.19,81.42 L95.21,81.42 L95.23,81.42 L95.25,81.42 L95.28,81.42 L95.3,81.42 L95.32,81.42 L95.35,81.42 L95.38,81.42 L95.4,81.42 L95.43,81.42 L95.46,81.42 L95.49,81.42 L95.52,81.42 L95.56,81.42 L95.59,81.42 L95.62,81.42 L95.66,81.42 L95.7,81.42 L95.73,81.42 L95.77,81.42 L95.81,81.42 L95.86,81.42 L95.9,81.42 L95.95,81.42 L95.99,81.42 L96.04,81.42 L96.09,81.42 L96.14,81.42 L96.2,81.42 L96.25,81.42 L96.31,81.42 L96.37,81.42 L96.43,81.42 L96.49,81.42 L96.56,81.42 L96.62,81.42 L96.69,81.42 L96.77,81.42 L96.84,81.42 L96.92,81.42 L97,81.42 L97.08,81.42 L97.17,81.42 L97.25,81.42 L97.34,81.42 L97.44,81.42 L97.54,81.42 L97.64,81.42 L97.74,81.42 L97.85,81.42 L97.96,81.42 L98.08,81.42 L98.19,81.42 L98.32,81.42 L98.44,81.42 L98.58,81.42 L98.71,81.42 L98.85,81.42 L99,81.42 L99.15,81.42 L99.3,81.42 L99.46,81.42 L99.63,81.42 L99.8,81.42 L99.98,81.42 L100.16,81.42 L100.35,81.42 L100.55,81.42 L100.75,81.42 L100.96,81.42 L101.18,81.42 L101.41,81.42 L101.64,81.42 L101.88,81.42 L102.13,81.42 L102.38,81.42 L102.65,81.42 L102.92,81.42 L103.21,81.42 L103.5,81.42 L103.8,81.42 L104.12,81.42 L104.44,81.41 L104.77,81.41 L105.12,81.41 L105.48,81.41 L105.85,81.41 L106.23,81.41 L106.63,81.41 L107.04,81.41 L107.46,81.41 L107.9,81.41 L108.35,81.41 L108.82,81.41 L109.3,81.41 L109.81,81.41 L110.32,81.41 L110.86,81.41 L111.41,81.41 L111.98,81.41 L112.57,81.4 L113.18,81.4 L113.82,81.4 L114.47,81.4 L115.15,81.4 L115.85,81.4 L116.57,81.4 L117.31,81.4 L118.09,81.39 L118.89,81.39 L119.71,81.39 L120.56,81.39 L122.79,81.38 L125.01,81.38 L127.23,81.37 L129.45,81.37 L131.67,81.36 L133.89,81.35 L136.11,81.34 L138.33,81.33 L140.55,81.33 L142.77,81.32 L144.99,81.31 L147.21,81.3 L149.43,81.28 L151.65,81.27 L153.88,81.26 L156.1,81.25 L158.32,81.24 L160.54,81.22 L162.76,81.21 L164.98,81.2 L167.2,81.18 L169.42,81.17 L171.64,81.15 L173.86,81.14 L176.08,81.12 L178.3,81.1 L180.52,81.09 L182.74,81.07 L184.96,81.05 L187.19,81.03 L189.41,81.01 L191.63,80.99 L193.85,80.97 L196.07,80.95 L198.29,80.93 L200.51,80.91 L202.73,80.89 L204.95,80.87 L207.17,80.84 L209.39,80.82 L211.61,80.8 L213.83,80.77 L216.05,80.75 L218.27,80.72 L220.5,80.69 L222.72,80.67 L224.94,80.64 L227.16,80.61 L229.38,80.59 L231.6,80.56 L233.82,80.53 L236.04,80.5 L238.26,80.47 L240.48,80.44 L242.7,80.4 L244.92,80.37 L247.14,80.34 L249.36,80.31 L251.59,80.27 L253.81,80.24 L256.03,80.2 L258.25,80.17 L260.47,80.13 L262.69,80.1 L264.91,80.06 L267.13,80.02 L269.35,79.98 L271.57,79.94 L273.79,79.9 L276.01,79.86 L278.23,79.82 L280.45,79.78 L282.67,79.74 L284.9,79.7 L287.12,79.65 L289.34,79.61 L291.56,79.56 L293.78,79.52 L296,79.47 L298.22,79.42 L300.44,79.38 L302.66,79.33 L304.88,79.28 L307.1,79.23 L309.32,79.18 L311.54,79.13 L313.76,79.08 L315.98,79.02 L318.21,78.97 L320.43,78.92 L322.65,78.86 L324.87,78.81 L327.09,78.75 L329.31,78.69 L331.53,78.63 L333.75,78.57 L335.97,78.51 L338.19,78.45 L340.41,78.39 L342.63,78.33 L344.85,78.27 L347.07,78.2 L349.29,78.14 L351.52,78.07 L353.74,78 L355.96,77.93 L358.18,77.87 L360.4,77.8 L362.62,77.72 L364.84,77.65 L367.06,77.58 L369.28,77.51 L371.5,77.43 L373.72,77.35 L375.94,77.28 L378.16,77.2 L380.38,77.12 L382.61,77.04 L384.83,76.96 L387.05,76.87 L389.27,76.79 L391.49,76.7 L393.71,76.62 L395.93,76.53 L398.15,76.44 L400.37,76.35 L402.59,76.26 L404.81,76.16 L407.03,76.07 L409.25,75.97 L411.47,75.87 L413.69,75.78 L415.92,75.67 L418.14,75.57 L420.36,75.47 L422.58,75.36 L424.8,75.26 L427.02,75.15 L429.24,75.04 L431.46,74.92 L433.68,74.81 L435.9,74.69 L438.12,74.58 L440.34,74.46 L442.56,74.34 L444.78,74.21 L447,74.09 L449.23,73.96 L451.45,73.83 L453.67,73.7 L455.89,73.56 L458.11,73.43 L460.33,73.29 L462.55,73.14 L464.77,73 L466.99,72.85 L469.21,72.7 L471.43,72.55 L473.65,72.4 L475.87,72.24 L478.09,72.08 L480.31,71.91 L482.54,71.75 L484.76,71.58 L486.98,71.4 L489.2,71.22 L491.42,71.04 L493.64,70.86 L495.86,70.67 L498.08,70.48 L500.3,70.28 L502.52,70.08 L504.74,69.87 L506.96,69.66 L509.18,69.44 L511.4,69.22 L513.63,69 L515.85,68.77 L518.07,68.53 L520.29,68.29 L522.51,68.04 L524.73,67.78 L526.95,67.52 L529.17,67.25 L531.39,66.97 L533.61,66.69 L535.83,66.39 L538.05,66.09 L540.27,65.78 L542.49,65.46 L544.71,65.13 L546.94,64.79 L549.16,64.43 L551.38,64.07 L553.6,63.69 L555.82,63.3 L558.04,62.89 L560.26,62.46 L562.48,62.02 L563.67,61.78 L564.83,61.54 L565.96,61.3 L567.07,61.05 L568.15,60.81 L569.2,60.57 L570.24,60.33 L571.25,60.09 L572.23,59.85 L573.2,59.61 L574.14,59.37 L575.06,59.13 L575.96,58.9 L576.84,58.66 L577.7,58.42 L578.53,58.19 L579.35,57.95 L580.16,57.72 L580.94,57.49 L581.7,57.25 L582.45,57.02 L583.18,56.79 L583.9,56.56 L584.59,56.33 L585.28,56.11 L585.94,55.88 L586.59,55.65 L587.23,55.43 L587.85,55.21 L588.46,54.99 L589.05,54.77 L589.63,54.55 L590.2,54.33 L590.75,54.12 L591.29,53.9 L591.82,53.69 L592.34,53.48 L592.84,53.27 L593.34,53.07 L593.82,52.86 L594.29,52.66 L594.75,52.46 L595.2,52.26 L595.64,52.07 L596.07,51.88 L596.49,51.69 L596.9,51.5 L597.3,51.32 L597.69,51.14 L598.08,50.96 L598.45,50.79 L598.82,50.62 L599.17,50.45 L599.52,50.29 L599.86,50.13 L600.2,49.98 L600.52,49.83 L600.84,49.69 L601.15,49.55 L601.46,49.42 L601.75,49.29 L602.04,49.17 L602.33,49.06 L602.6,48.95 L602.87,48.85 L603.14,48.77 L603.4,48.69 L603.65,48.61 L603.9,48.55 L604.14,48.51 L604.37,48.47 L604.6,48.45 L604.83,48.44 L605.05,48.44 L605.26,48.47 L605.47,48.51 L605.68,48.57 L605.88,48.66 L606.08,48.78 L606.27,48.92 L606.46,49.1 L606.64,49.32 L606.67,49.36 L606.68,49.38 L606.7,49.4 L606.71,49.42 L606.72,49.43 L606.73,49.45 L606.75,49.47 L606.76,49.49 L606.77,49.51 L606.78,49.53 L606.8,49.52 L606.81,49.5 L606.82,49.49 L606.82,49.48 L606.84,49.46 L606.85,49.44 L606.86,49.42 L606.87,49.4 L606.89,49.38 L606.9,49.36 L606.91,49.34 L606.92,49.32 L606.94,49.3 L606.95,49.28 L606.96,49.26 L606.97,49.24 L606.99,49.22 L606.99,49.21 L607,49.2 L607.01,49.18 L607.02,49.16 L607.04,49.14 L607.05,49.12 L607.06,49.1 L607.07,49.08 L607.09,49.05 L607.1,49.03 L607.11,49.01 L607.12,48.99 L607.14,48.97 L607.15,48.95 L607.16,48.93 L607.17,48.91 L607.19,48.89 L607.2,48.87 L607.21,48.85 L607.23,48.83 L607.24,48.8 L607.25,48.78 L607.26,48.76 L607.28,48.74 L607.29,48.72 L607.3,48.7 L607.31,48.68 L607.33,48.66 L607.33,48.65 L607.34,48.64 L607.35,48.61 L607.36,48.59 L607.38,48.57 L607.39,48.55 L607.4,48.53 L607.41,48.51 L607.43,48.49 L607.44,48.46 L607.45,48.44 L607.46,48.42 L607.48,48.4 L607.49,48.38 L607.49,48.37 L607.5,48.35 L607.51,48.33 L607.53,48.31 L607.54,48.29 L607.55,48.27 L607.57,48.25 L607.58,48.22 L607.59,48.2 L607.6,48.18 L607.62,48.16 L607.63,48.13 L607.64,48.11 L607.65,48.09 L607.67,48.07 L607.68,48.05 L607.69,48.02 L607.7,48 L607.72,47.98 L607.73,47.96 L607.74,47.93 L607.75,47.91 L607.77,47.89 L607.78,47.86 L607.79,47.84 L607.8,47.82 L607.81,47.81 L607.82,47.8 L607.83,47.77 L607.84,47.75 L607.85,47.73 L607.87,47.7 L607.88,47.68 L607.89,47.66 L607.9,47.63 L607.92,47.61 L607.93,47.59 L607.94,47.57 L607.96,47.54 L607.97,47.52 L607.98,47.49 L607.99,47.47 L608.01,47.45 L608.02,47.42 L608.03,47.4 L608.04,47.38 L608.06,47.35 L608.07,47.33 L608.08,47.31 L608.09,47.28 L608.11,47.26 L608.12,47.23 L608.13,47.21 L608.14,47.19 L608.16,47.16 L608.17,47.14 L608.18,47.11 L608.19,47.09 L608.21,47.07 L608.22,47.04 L608.23,47.02 L608.24,46.99 L608.25,46.98 L608.26,46.97 L608.27,46.94 L608.28,46.92 L608.29,46.89 L608.31,46.87 L608.32,46.84 L608.33,46.82 L608.35,46.79 L608.36,46.77 L608.37,46.74 L608.38,46.72 L608.39,46.7 L608.4,46.69 L608.41,46.67 L608.42,46.64 L608.43,46.62 L608.45,46.59 L608.46,46.57 L608.47,46.54 L608.48,46.52 L608.5,46.49 L608.51,46.47 L608.52,46.44 L608.53,46.42 L608.55,46.39 L608.56,46.36 L608.57,46.34 L608.58,46.31 L608.6,46.29 L608.61,46.26 L608.62,46.23 L608.63,46.21 L608.65,46.18 L608.66,46.16 L608.67,46.14 L608.67,46.13 L608.69,46.1 L608.7,46.08 L608.71,46.05 L608.72,46.02 L608.74,46 L608.75,45.97 L608.76,45.94 L608.77,45.92 L608.79,45.89 L608.8,45.86 L608.81,45.84 L608.82,45.81 L608.84,45.78 L608.85,45.76 L608.86,45.73 L608.87,45.7 L608.89,45.68 L608.9,45.65 L608.91,45.62 L608.92,45.59 L608.93,45.58 L608.94,45.57 L608.95,45.54 L608.96,45.51 L608.97,45.48 L608.99,45.45 L609,45.43 L609.01,45.4 L609.02,45.37 L609.04,45.34 L609.05,45.32 L609.06,45.3 L609.06,45.29 L609.08,45.26 L609.09,45.23 L609.1,45.2 L609.11,45.17 L609.13,45.15 L609.14,45.12 L609.15,45.09 L609.16,45.06 L609.18,45.03 L609.18,45.02 L609.19,45 L609.2,44.97 L609.21,44.94 L609.23,44.91 L609.24,44.89 L609.25,44.86 L609.26,44.83 L609.28,44.8 L609.29,44.77 L609.3,44.74 L609.31,44.71 L609.33,44.68 L609.34,44.65 L609.35,44.62 L609.36,44.59 L609.38,44.56 L609.39,44.53 L609.4,44.5 L609.42,44.47 L609.42,44.46 L609.43,44.44 L609.44,44.41 L609.45,44.38 L609.47,44.35 L609.48,44.32 L609.49,44.29 L609.5,44.26 L609.52,44.23 L609.53,44.2 L609.53,44.18 L609.54,44.17 L609.55,44.13 L609.57,44.1 L609.58,44.07 L609.59,44.04 L609.6,44.01 L609.62,43.98 L609.63,43.95 L609.64,43.92 L609.65,43.9 L609.65,43.88 L609.67,43.85 L609.68,43.82 L609.69,43.79 L609.7,43.76 L609.72,43.72 L609.73,43.69 L609.74,43.66 L609.75,43.63 L609.76,43.62 L609.77,43.6 L609.78,43.56 L609.79,43.53 L609.81,43.5 L609.82,43.47 L609.83,43.43 L609.84,43.4 L609.86,43.37 L609.86,43.34 L609.87,43.33 L609.88,43.25 L609.89,43.1 L609.91,42.96 L609.92,42.82 L609.93,42.68 L609.94,42.54 L609.96,42.4 L609.97,42.26 L609.97,42.25 L609.98,42.12 L609.99,41.99 L610.01,41.85 L610.02,41.71 L610.03,41.58 L610.04,41.44 L610.06,41.31 L610.07,41.17 L610.07,41.15 L610.08,41.04 L610.09,40.91 L610.11,40.78 L610.12,40.64 L610.13,40.51 L610.15,40.38 L610.16,40.25 L610.17,40.12 L610.17,40.1 L610.18,39.99 L610.2,39.86 L610.21,39.74 L610.22,39.61 L610.23,39.48 L610.25,39.35 L610.26,39.22 L610.27,39.1 L610.28,38.97 L610.3,38.85 L610.31,38.72 L610.32,38.6 L610.33,38.47 L610.35,38.35 L610.36,38.22 L610.37,38.15 L610.37,38.1 L610.38,37.97 L610.4,37.85 L610.41,37.73 L610.42,37.6 L610.43,37.48 L610.45,37.36 L610.46,37.24 L610.46,37.23 L610.47,37.11 L610.48,36.99 L610.5,36.87 L610.51,36.75 L610.52,36.63 L610.54,36.51 L610.55,36.39 L610.55,36.35 L610.56,36.26 L610.57,36.14 L610.59,36.02 L610.6,35.9 L610.61,35.78 L610.62,35.66 L610.64,35.54 L610.64,35.49 L610.65,35.42 L610.66,35.3 L610.67,35.19 L610.69,35.07 L610.7,34.95 L610.71,34.83 L610.72,34.71 L610.73,34.67 L610.74,34.59 L610.75,34.47 L610.76,34.35 L610.77,34.23 L610.79,34.11 L610.8,34 L610.81,33.88 L610.81,33.86 L610.82,33.76 L610.84,33.64 L610.85,33.52 L610.86,33.4 L610.87,33.29 L610.89,33.17 L610.9,33.08 L610.9,33.05 L610.91,32.93 L610.93,32.81 L610.94,32.7 L610.95,32.58 L610.96,32.46 L610.98,32.34 L610.98,32.31 L610.99,32.22 L611,32.1 L611.01,31.99 L611.03,31.87 L611.04,31.75 L611.05,31.63 L611.06,31.56 L611.06,31.51 L611.08,31.39 L611.09,31.28 L611.1,31.16 L611.11,31.04 L611.13,30.92 L611.14,30.83 L611.14,30.8 L611.15,30.68 L611.16,30.56 L611.18,30.45 L611.19,30.33 L611.2,30.21 L611.21,30.11 L611.21,30.09 L611.23,29.97 L611.24,29.85 L611.25,29.73 L611.27,29.61 L611.28,29.49 L611.29,29.41 L611.29,29.37 L611.3,29.25 L611.32,29.13 L611.33,29.01 L611.34,28.89 L611.35,28.77 L611.36,28.71 L611.37,28.65 L611.38,28.53 L611.39,28.41 L611.4,28.29 L611.42,28.17 L611.43,28.04 L611.43,28.03 L611.44,27.92 L611.45,27.8 L611.47,27.68 L611.48,27.56 L611.49,27.43 L611.5,27.36 L611.5,27.31 L611.52,27.19 L611.53,27.07 L611.54,26.94 L611.55,26.82 L611.57,26.7 L611.57,26.69 L611.58,26.57 L611.59,26.45 L611.6,26.32 L611.62,26.2 L611.63,26.08 L611.63,26.04 L611.64,25.95 L611.66,25.83 L611.67,25.7 L611.68,25.57 L611.69,25.45 L611.7,25.39 L611.71,25.32 L611.72,25.2 L611.73,25.07 L611.74,24.94 L611.76,24.81 L611.76,24.76 L611.77,24.69 L611.78,24.56 L611.79,24.43 L611.81,24.3 L611.82,24.17 L611.82,24.13 L611.83,24.04 L611.84,23.91 L611.86,23.78 L611.87,23.65 L611.88,23.52 L611.88,23.5 L611.89,23.39 L611.91,23.26 L611.92,23.13 L611.93,23 L611.94,22.88 L611.94,22.86 L611.96,22.73 L611.97,22.6 L611.98,22.46 L612,22.33 L612,22.27 L612.01,22.2 L612.02,22.06 L612.03,21.93 L612.05,21.79 L612.06,21.67 L612.06,21.65 L612.07,21.52 L612.08,21.38 L612.1,21.24 L612.11,21.11 L612.11,21.07 L612.12,20.97 L612.13,20.83 L612.15,20.69 L612.16,20.55 L612.17,20.47 L612.17,20.41 L612.18,20.27 L612.2,20.13 L612.21,19.99 L612.22,19.88 L612.22,19.84 L612.23,19.7 L612.25,19.56 L612.26,19.41 L612.27,19.29 L612.27,19.27 L612.28,19.12 L612.3,18.98 L612.31,18.83 L612.32,18.71 L612.32,18.69 L612.33,18.54 L612.35,18.39 L612.36,18.24 L612.37,18.14 L612.37,18.09 L612.39,17.94 L612.4,17.79 L612.41,17.64 L612.42,17.56 L612.42,17.49 L612.44,17.34 L612.45,17.18 L612.46,17.03 L612.46,16.99 L612.47,16.87 L612.49,16.72 L612.5,16.56 L612.51,16.43 L612.51,16.41 L612.52,16.25 L612.54,16.09 L612.55,15.93 L612.55,15.86 L612.56,15.77 L612.57,15.61 L612.59,15.45 L612.6,15.3 L612.6,15.29 L612.61,15.12 L612.62,14.96 L612.64,14.8 L612.64,14.75 L612.65,14.63 L612.66,14.46 L612.67,14.3 L612.68,14.19 L612.69,14.13 L612.7,13.96 L612.71,13.79 L612.72,13.64 L612.72,13.62 L612.74,13.45 L612.75,13.27 L612.76,13.1 L612.76,13.09 L612.78,12.92 L612.79,12.75 L612.8,12.57 L612.8,12.55 L612.81,12.39 L612.83,12.21 L612.84,12.03 L612.84,12 L612.85,11.85 L612.86,11.67 L612.88,11.48 L612.88,11.46 L612.89,11.3 L612.9,11.11 L612.91,10.93 L612.91,10.92 L612.93,10.73 L612.94,10.54 L612.95,10.39 L612.95,10.35 L612.96,10.16 L612.98,9.97 L612.98,9.85 L612.99,9.77 L613,9.57 L613.01,9.38 L613.02,9.32 L613.03,9.18 L613.04,8.97 L613.05,8.79 L613.05,8.77 L613.06,8.57 L613.08,8.36 L613.08,8.26 L613.09,8.15 L613.1,7.95 L613.11,7.74 L613.12,7.73 L613.13,7.52 L613.14,7.31 L613.15,7.21 L613.15,7.09 L613.17,6.87 L613.18,6.69 L613.18,6.66 L613.19,6.43 L613.2,6.21 L613.21,6.17 L613.22,5.99 L613.23,5.76 L613.23,5.65 L613.24,5.53 L613.25,5.3 L613.26,5.13 L613.27,5.06 L613.28,4.83 L613.29,4.61 L613.29,4.59 L613.3,4.35 L613.32,4.11 L613.32,4.1 L613.33,3.86 L613.34,3.62 L613.34,3.58 L613.35,3.37 L613.37,3.12 L613.37,3.07 L613.38,2.86 L613.39,2.6 L613.39,2.56 L613.4,2.34 L613.42,2.08 L613.42,2.05 L613.43,1.82 L613.44,1.55 L613.44,1.54 L613.45,1.28 L613.47,1.03 L613.47,1 L613.48,0.72 L613.49,0.52 L613.49,0.44 L613.51,0.16 L613.51,0.02 L613.52,-0.13 L613.53,-0.42 L613.53,-0.49 L613.54,-0.71 L613.55,-0.99 L613.56,-1.01 L613.57,-1.31 L613.58,-1.49 L613.58,-1.62 L613.59,-1.93 L613.6,-2 L613.61,-2.24 L613.62,-2.5 L613.62,-2.56 L613.63,-2.89 L613.64,-3 L613.64,-3.21 L613.65,-3.5 L613.66,-3.54 L613.67,-3.88 L613.67,-4 L613.68,-4.22 L613.69,-4.49 L613.69,-4.57 L613.71,-4.92 L613.71,-4.99 L613.72,-5.28 L613.73,-5.49 L613.73,-5.64 L613.74,-5.98 L613.74,-6.01 L613.76,-6.39 L613.76,-6.48 L613.77,-6.77 L613.78,-6.97 L613.78,-7.16 L613.79,-7.46 L613.79,-7.55 L613.81,-7.95 L613.81,-7.96 L613.82,-8.36 L613.82,-8.45 L613.83,-8.78 L613.84,-8.94 L613.85,-9.2 L613.85,-9.43 L613.86,-9.63 L613.87,-9.92 L613.87,-10.07 L613.88,-10.41 L613.88,-10.52 L613.89,-10.9 L613.9,-10.98 L613.91,-11.39 L613.91,-11.45 L613.92,-11.88 L613.92,-11.93 L613.93,-12.37 L613.93,-12.42 L613.94,-12.85 L613.95,-12.92 L613.96,-13.34 L613.96,-13.43 L613.97,-13.83 L613.97,-13.96 L613.98,-14.31 L613.98,-14.5 L613.99,-14.8 L614,-15.05 L614,-15.28 L614.01,-15.61 L614.01,-15.77 L614.02,-16.19 L614.02,-16.25 L614.03,-16.74 L614.03,-16.79 L614.04,-17.22 L614.05,-17.23 L614.06,-17.23 L614.07,-17.23 L614.08,-17.23 L614.09,-17.23 L614.1,-17.23 L614.11,-17.23 L614.12,-17.23 L614.13,-17.23 L614.14,-17.23 L614.15,-17.23 L614.16,-17.23 L614.17,-17.23 L614.18,-17.23 L614.19,-17.23 L614.2,-17.23 L614.21,-17.23 L614.22,-17.23 L614.23,-17.23 L614.24,-17.23 L614.25,-17.23 L614.26,-17.23 L614.27,-17.23 L614.28,-17.23 L614.29,-17.23 L614.3,-17.23 L614.31,-17.23 L614.32,-17.23 L614.33,-17.23 L614.34,-17.23 L614.35,-17.23 L614.36,-17.23 L614.37,-17.23 L614.38,-17.23 L614.39,-17.23 L614.4,-17.23 L614.41,-17.23 L614.42,-17.23 L614.43,-17.23 L614.44,-17.23 L614.45,-17.23 L614.46,-17.23" stroke="#E19C24" stroke-width="3.7" stroke-dasharray="8.5 2.35"/>
<path d="M95.06,120.72 L95.08,120.72 L95.09,120.72 L95.11,120.72 L95.13,120.72 L95.15,120.72 L95.17,120.72 L95.19,120.72 L95.21,120.72 L95.23,120.72 L95.25,120.72 L95.28,120.72 L95.3,120.72 L95.32,120.72 L95.35,120.72 L95.38,120.72 L95.4,120.72 L95.43,120.72 L95.46,120.72 L95.49,120.72 L95.52,120.72 L95.56,120.72 L95.59,120.72 L95.62,120.72 L95.66,120.72 L95.7,120.72 L95.73,120.72 L95.77,120.72 L95.81,120.72 L95.86,120.72 L95.9,120.72 L95.95,120.72 L95.99,120.72 L96.04,120.72 L96.09,120.72 L96.14,120.72 L96.2,120.72 L96.25,120.72 L96.31,120.72 L96.37,120.72 L96.43,120.72 L96.49,120.72 L96.56,120.72 L96.62,120.72 L96.69,120.72 L96.77,120.72 L96.84,120.72 L96.92,120.72 L97,120.72 L97.08,120.72 L97.17,120.72 L97.25,120.72 L97.34,120.72 L97.44,120.72 L97.54,120.72 L97.64,120.72 L97.74,120.72 L97.85,120.72 L97.96,120.72 L98.08,120.72 L98.19,120.72 L98.32,120.72 L98.44,120.72 L98.58,120.72 L98.71,120.72 L98.85,120.72 L99,120.72 L99.15,120.72 L99.3,120.72 L99.46,120.72 L99.63,120.72 L99.8,120.72 L99.98,120.72 L100.16,120.72 L100.35,120.72 L100.55,120.72 L100.75,120.72 L100.96,120.72 L101.18,120.72 L101.41,120.72 L101.64,120.72 L101.88,120.72 L102.13,120.72 L102.38,120.72 L102.65,120.72 L102.92,120.72 L103.21,120.72 L103.5,120.72 L103.8,120.72 L104.12,120.72 L104.44,120.72 L104.77,120.72 L105.12,120.72 L105.48,120.72 L105.85,120.72 L106.23,120.71 L106.63,120.71 L107.04,120.71 L107.46,120.71 L107.9,120.71 L108.35,120.71 L108.82,120.71 L109.3,120.71 L109.81,120.71 L110.32,120.71 L110.86,120.7 L111.41,120.7 L111.98,120.7 L112.57,120.7 L113.18,120.7 L113.82,120.7 L114.47,120.69 L115.15,120.69 L115.85,120.69 L116.57,120.69 L117.31,120.69 L118.09,120.68 L118.89,120.68 L119.71,120.68 L120.56,120.67 L122.79,120.66 L125.01,120.66 L127.23,120.64 L129.45,120.63 L131.67,120.62 L133.89,120.61 L136.11,120.6 L138.33,120.58 L140.55,120.57 L142.77,120.55 L144.99,120.53 L147.21,120.52 L149.43,120.5 L151.65,120.48 L153.88,120.46 L156.1,120.44 L158.32,120.42 L160.54,120.4 L162.76,120.37 L164.98,120.35 L167.2,120.33 L169.42,120.3 L171.64,120.28 L173.86,120.25 L176.08,120.22 L178.3,120.19 L180.52,120.16 L182.74,120.13 L184.96,120.1 L187.19,120.07 L189.41,120.04 L191.63,120.01 L193.85,119.97 L196.07,119.94 L198.29,119.9 L200.51,119.87 L202.73,119.83 L204.95,119.79 L207.17,119.75 L209.39,119.71 L211.61,119.67 L213.83,119.63 L216.05,119.59 L218.27,119.55 L220.5,119.5 L222.72,119.46 L224.94,119.41 L227.16,119.36 L229.38,119.32 L231.6,119.27 L233.82,119.22 L236.04,119.17 L238.26,119.12 L240.48,119.07 L242.7,119.01 L244.92,118.96 L247.14,118.9 L249.36,118.85 L251.59,118.79 L253.81,118.73 L256.03,118.67 L258.25,118.61 L260.47,118.55 L262.69,118.49 L264.91,118.43 L267.13,118.36 L269.35,118.3 L271.57,118.23 L273.79,118.17 L276.01,118.1 L278.23,118.03 L280.45,117.96 L282.67,117.89 L284.9,117.82 L287.12,117.74 L289.34,117.67 L291.56,117.59 L293.78,117.51 L296,117.44 L298.22,117.36 L300.44,117.28 L302.66,117.19 L304.88,117.11 L307.1,117.03 L309.32,116.94 L311.54,116.86 L313.76,116.77 L315.98,116.68 L318.21,116.59 L320.43,116.5 L322.65,116.4 L324.87,116.31 L327.09,116.21 L329.31,116.12 L331.53,116.02 L333.75,115.92 L335.97,115.82 L338.19,115.71 L340.41,115.61 L342.63,115.5 L344.85,115.4 L347.07,115.29 L349.29,115.18 L351.52,115.06 L353.74,114.95 L355.96,114.83 L358.18,114.72 L360.4,114.6 L362.62,114.48 L364.84,114.36 L367.06,114.23 L369.28,114.11 L371.5,113.98 L373.72,113.85 L375.94,113.72 L378.16,113.59 L380.38,113.45 L382.61,113.32 L384.83,113.18 L387.05,113.04 L389.27,112.89 L391.49,112.75 L393.71,112.6 L395.93,112.45 L398.15,112.3 L400.37,112.14 L402.59,111.99 L404.81,111.83 L407.03,111.67 L409.25,111.51 L411.47,111.34 L413.69,111.17 L415.92,111 L418.14,110.83 L420.36,110.65 L422.58,110.47 L424.8,110.29 L427.02,110.1 L429.24,109.91 L431.46,109.72 L433.68,109.53 L435.9,109.33 L438.12,109.13 L440.34,108.93 L442.56,108.72 L444.78,108.51 L447,108.3 L449.23,108.08 L451.45,107.86 L453.67,107.63 L455.89,107.4 L458.11,107.17 L460.33,106.93 L462.55,106.69 L464.77,106.44 L466.99,106.19 L469.21,105.93 L471.43,105.67 L473.65,105.41 L475.87,105.14 L478.09,104.86 L480.31,104.58 L482.54,104.29 L484.76,104 L486.98,103.7 L489.2,103.4 L491.42,103.09 L493.64,102.77 L495.86,102.44 L498.08,102.11 L500.3,101.77 L502.52,101.43 L504.74,101.07 L506.96,100.71 L509.18,100.34 L511.4,99.95 L513.63,99.56 L515.85,99.16 L518.07,98.75 L520.29,98.33 L522.51,97.9 L524.73,97.46 L526.95,97 L529.17,96.53 L531.39,96.05 L533.61,95.55 L535.83,95.04 L538.05,94.51 L540.27,93.97 L542.49,93.4 L544.71,92.82 L546.94,92.22 L549.16,91.6 L551.38,90.95 L553.6,90.28 L555.82,89.58 L558.04,88.85 L560.26,88.1 L562.48,87.31 L563.67,86.87 L564.83,86.44 L565.96,86 L567.07,85.56 L568.15,85.12 L569.2,84.68 L570.24,84.25 L571.25,83.81 L572.23,83.37 L573.2,82.93 L574.14,82.49 L575.06,82.05 L575.96,81.61 L576.84,81.17 L577.7,80.73 L578.53,80.29 L579.35,79.85 L580.16,79.41 L580.94,78.97 L581.7,78.53 L582.45,78.09 L583.18,77.64 L583.9,77.2 L584.59,76.76 L585.28,76.32 L585.94,75.88 L586.59,75.44 L587.23,75 L587.85,74.56 L588.46,74.12 L589.05,73.68 L589.63,73.24 L590.2,72.8 L590.75,72.36 L591.29,71.92 L591.82,71.48 L592.34,71.04 L592.84,70.6 L593.34,70.16 L593.82,69.72 L594.29,69.28 L594.75,68.84 L595.2,68.41 L595.64,67.97 L596.07,67.53 L596.49,67.09 L596.9,66.66 L597.3,66.22 L597.69,65.79 L598.08,65.35 L598.45,64.92 L598.82,64.48 L599.17,64.05 L599.52,63.62 L599.86,63.19 L600.2,62.75 L600.52,62.32 L600.84,61.89 L601.15,61.46 L601.46,61.04 L601.75,60.61 L602.04,60.18 L602.33,59.75 L602.6,59.33 L602.87,58.9 L603.14,58.48 L603.4,58.06 L603.65,57.64 L603.9,57.22 L604.14,56.8 L604.37,56.38 L604.6,55.96 L604.83,55.55 L605.05,55.13 L605.26,54.72 L605.47,54.31 L605.68,53.9 L605.88,53.49 L606.08,53.09 L606.27,52.68 L606.46,52.28 L606.64,51.88 L606.67,51.8 L606.68,51.78 L606.7,51.75 L606.71,51.72 L606.72,51.69 L606.73,51.66 L606.75,51.64 L606.76,51.61 L606.77,51.58 L606.78,51.55 L606.8,51.52 L606.81,51.49 L606.82,51.48 L606.82,51.47 L606.84,51.44 L606.85,51.41 L606.86,51.38 L606.87,51.35 L606.89,51.32 L606.9,51.29 L606.91,51.27 L606.92,51.24 L606.94,51.21 L606.95,51.18 L606.96,51.15 L606.97,51.12 L606.99,51.09 L606.99,51.08 L607,51.06 L607.01,51.04 L607.02,51.01 L607.04,50.98 L607.05,50.95 L607.06,50.92 L607.07,50.89 L607.09,50.86 L607.1,50.83 L607.11,50.8 L607.12,50.77 L607.14,50.74 L607.15,50.71 L607.16,50.69 L607.17,50.66 L607.19,50.63 L607.2,50.6 L607.21,50.57 L607.23,50.54 L607.24,50.51 L607.25,50.48 L607.26,50.45 L607.28,50.42 L607.29,50.39 L607.3,50.36 L607.31,50.33 L607.33,50.3 L607.33,50.29 L607.34,50.27 L607.35,50.24 L607.36,50.21 L607.38,50.18 L607.39,50.15 L607.4,50.12 L607.41,50.09 L607.43,50.06 L607.44,50.03 L607.45,50 L607.46,49.97 L607.48,49.94 L607.49,49.91 L607.49,49.9 L607.5,49.88 L607.51,49.85 L607.53,49.82 L607.54,49.79 L607.55,49.75 L607.57,49.72 L607.58,49.69 L607.59,49.66 L607.6,49.63 L607.62,49.6 L607.63,49.57 L607.64,49.54 L607.65,49.51 L607.67,49.48 L607.68,49.45 L607.69,49.42 L607.7,49.38 L607.72,49.35 L607.73,49.32 L607.74,49.29 L607.75,49.26 L607.77,49.23 L607.78,49.2 L607.79,49.17 L607.8,49.13 L607.81,49.13 L607.82,49.1 L607.83,49.07 L607.84,49.04 L607.85,49.01 L607.87,48.98 L607.88,48.94 L607.89,48.91 L607.9,48.88 L607.92,48.85 L607.93,48.82 L607.94,48.79 L607.96,48.75 L607.96,48.74 L607.97,48.72 L607.98,48.69 L607.99,48.66 L608.01,48.63 L608.02,48.59 L608.03,48.56 L608.04,48.53 L608.06,48.5 L608.07,48.46 L608.08,48.43 L608.09,48.4 L608.11,48.37 L608.11,48.36 L608.12,48.33 L608.13,48.3 L608.14,48.27 L608.16,48.24 L608.17,48.2 L608.18,48.17 L608.19,48.14 L608.21,48.11 L608.22,48.07 L608.23,48.04 L608.24,48.01 L608.25,47.99 L608.26,47.97 L608.27,47.94 L608.28,47.91 L608.29,47.87 L608.31,47.84 L608.32,47.81 L608.33,47.77 L608.35,47.74 L608.36,47.71 L608.37,47.67 L608.38,47.64 L608.39,47.61 L608.4,47.61 L608.41,47.57 L608.42,47.54 L608.43,47.51 L608.45,47.47 L608.46,47.44 L608.47,47.41 L608.48,47.37 L608.5,47.34 L608.51,47.3 L608.52,47.27 L608.53,47.24 L608.55,47.2 L608.56,47.17 L608.57,47.13 L608.58,47.1 L608.6,47.07 L608.61,47.03 L608.62,47 L608.63,46.96 L608.65,46.93 L608.66,46.89 L608.67,46.87 L608.67,46.86 L608.69,46.83 L608.7,46.79 L608.71,46.76 L608.72,46.72 L608.74,46.69 L608.75,46.65 L608.76,46.62 L608.77,46.58 L608.79,46.55 L608.8,46.51 L608.81,46.48 L608.82,46.44 L608.84,46.41 L608.85,46.37 L608.86,46.34 L608.87,46.3 L608.89,46.27 L608.9,46.23 L608.91,46.2 L608.92,46.16 L608.93,46.15 L608.94,46.13 L608.95,46.09 L608.96,46.06 L608.97,46.02 L608.99,45.98 L609,45.95 L609.01,45.91 L609.02,45.88 L609.04,45.84 L609.05,45.81 L609.06,45.79 L609.06,45.77 L609.08,45.73 L609.09,45.7 L609.1,45.66 L609.11,45.63 L609.13,45.59 L609.14,45.55 L609.15,45.52 L609.16,45.48 L609.18,45.45 L609.18,45.43 L609.19,45.41 L609.2,45.37 L609.21,45.34 L609.23,45.3 L609.24,45.26 L609.25,45.23 L609.26,45.19 L609.28,45.16 L609.29,45.12 L609.3,45.08 L609.31,45.05 L609.33,45.01 L609.34,44.97 L609.35,44.94 L609.36,44.9 L609.38,44.86 L609.39,44.82 L609.4,44.79 L609.42,44.75 L609.42,44.74 L609.43,44.71 L609.44,44.68 L609.45,44.64 L609.47,44.6 L609.48,44.57 L609.49,44.53 L609.5,44.49 L609.52,44.45 L609.53,44.42 L609.53,44.4 L609.54,44.38 L609.55,44.34 L609.57,44.3 L609.58,44.27 L609.59,44.23 L609.6,44.19 L609.62,44.15 L609.63,44.12 L609.64,44.08 L609.65,44.06 L609.65,44.04 L609.67,44 L609.68,43.97 L609.69,43.93 L609.7,43.89 L609.72,43.85 L609.73,43.82 L609.74,43.78 L609.75,43.74 L609.76,43.73 L609.77,43.7 L609.78,43.66 L609.79,43.63 L609.81,43.59 L609.82,43.55 L609.83,43.51 L609.84,43.47 L609.86,43.44 L609.86,43.41 L609.87,43.4 L609.88,43.36 L609.89,43.32 L609.91,43.28 L609.92,43.25 L609.93,43.21 L609.94,43.17 L609.96,43.13 L609.97,43.09 L609.98,43.05 L609.99,43.02 L610.01,42.98 L610.02,42.94 L610.03,42.9 L610.04,42.86 L610.06,42.82 L610.07,42.79 L610.07,42.78 L610.08,42.75 L610.09,42.71 L610.11,42.67 L610.12,42.63 L610.13,42.59 L610.15,42.56 L610.16,42.52 L610.17,42.48 L610.17,42.47 L610.18,42.44 L610.2,42.4 L610.21,42.36 L610.22,42.33 L610.23,42.29 L610.25,42.25 L610.26,42.21 L610.27,42.17 L610.28,42.13 L610.3,42.1 L610.31,42.06 L610.32,42.02 L610.33,41.98 L610.35,41.94 L610.36,41.9 L610.37,41.88 L610.37,41.87 L610.38,41.83 L610.4,41.79 L610.41,41.75 L610.42,41.71 L610.43,41.68 L610.45,41.64 L610.46,41.6 L610.47,41.56 L610.48,41.52 L610.5,41.49 L610.51,41.45 L610.52,41.41 L610.54,41.37 L610.55,41.34 L610.55,41.32 L610.56,41.3 L610.57,41.26 L610.59,41.22 L610.6,41.19 L610.61,41.15 L610.62,41.11 L610.64,41.07 L610.64,41.06 L610.65,41.04 L610.66,41 L610.67,40.96 L610.69,40.93 L610.7,40.89 L610.71,40.85 L610.72,40.82 L610.73,40.8 L610.74,40.78 L610.75,40.74 L610.76,40.71 L610.77,40.67 L610.79,40.64 L610.8,40.6 L610.81,40.56 L610.82,40.53 L610.84,40.49 L610.85,40.46 L610.86,40.42 L610.87,40.39 L610.89,40.35 L610.9,40.33 L610.9,40.32 L610.91,40.28 L610.93,40.25 L610.94,40.21 L610.95,40.18 L610.96,40.15 L610.98,40.11 L610.99,40.08 L611,40.05 L611.01,40.01 L611.03,39.98 L611.04,39.95 L611.05,39.92 L611.06,39.9 L611.06,39.88 L611.08,39.85 L611.09,39.82 L611.1,39.79 L611.11,39.76 L611.13,39.73 L611.14,39.71 L611.14,39.7 L611.15,39.67 L611.16,39.64 L611.18,39.61 L611.19,39.58 L611.2,39.55 L611.21,39.53 L611.23,39.5 L611.24,39.47 L611.25,39.44 L611.27,39.42 L611.28,39.39 L611.29,39.37 L611.3,39.34 L611.32,39.32 L611.33,39.29 L611.34,39.27 L611.35,39.25 L611.36,39.24 L611.37,39.22 L611.38,39.2 L611.39,39.18 L611.4,39.16 L611.42,39.14 L611.43,39.12 L611.44,39.1 L611.45,39.09 L611.47,39.07 L611.48,39.05 L611.49,39.04 L611.5,39.03 L611.5,39.02 L611.52,39.01 L611.53,39 L611.54,38.99 L611.55,38.98 L611.57,38.97 L611.58,38.96 L611.59,38.95 L611.6,38.94 L611.62,38.94 L611.63,38.93 L611.64,38.93 L611.66,38.93 L611.67,38.93 L611.68,38.93 L611.69,38.94 L611.7,38.94 L611.71,38.94 L611.72,38.95 L611.73,38.96 L611.74,38.96 L611.76,38.98 L611.77,38.99 L611.78,39.01 L611.79,39.02 L611.81,38.93 L611.82,38.84 L611.82,38.8 L611.83,38.74 L611.84,38.65 L611.86,38.55 L611.87,38.45 L611.88,38.35 L611.88,38.34 L611.89,38.25 L611.91,38.15 L611.92,38.05 L611.93,37.95 L611.94,37.87 L611.94,37.85 L611.96,37.75 L611.97,37.65 L611.98,37.55 L612,37.45 L612,37.4 L612.01,37.34 L612.02,37.24 L612.03,37.14 L612.05,37.03 L612.06,36.93 L612.07,36.82 L612.08,36.71 L612.1,36.61 L612.11,36.5 L612.11,36.47 L612.12,36.39 L612.13,36.28 L612.15,36.17 L612.16,36.06 L612.17,36 L612.17,35.95 L612.18,35.84 L612.2,35.73 L612.21,35.62 L612.22,35.53 L612.22,35.5 L612.23,35.39 L612.25,35.28 L612.26,35.16 L612.27,35.07 L612.27,35.05 L612.28,34.93 L612.3,34.81 L612.31,34.69 L612.32,34.6 L612.32,34.58 L612.33,34.46 L612.35,34.34 L612.36,34.22 L612.37,34.13 L612.37,34.1 L612.39,33.97 L612.4,33.85 L612.41,33.73 L612.42,33.66 L612.42,33.6 L612.44,33.48 L612.45,33.35 L612.46,33.23 L612.46,33.2 L612.47,33.1 L612.49,32.97 L612.5,32.84 L612.51,32.73 L612.51,32.71 L612.52,32.58 L612.54,32.45 L612.55,32.32 L612.55,32.26 L612.56,32.19 L612.57,32.05 L612.59,31.92 L612.6,31.79 L612.6,31.78 L612.61,31.65 L612.62,31.51 L612.64,31.37 L612.64,31.33 L612.65,31.23 L612.66,31.09 L612.67,30.95 L612.68,30.86 L612.69,30.81 L612.7,30.66 L612.71,30.52 L612.72,30.39 L612.72,30.37 L612.74,30.22 L612.75,30.08 L612.76,29.93 L612.76,29.92 L612.78,29.78 L612.79,29.63 L612.8,29.48 L612.8,29.46 L612.81,29.32 L612.83,29.17 L612.84,29.01 L612.84,28.99 L612.85,28.86 L612.86,28.7 L612.88,28.29 L612.88,28.25 L612.89,27.82 L612.9,27.36 L612.91,26.91 L612.91,26.9 L612.93,26.45 L612.94,26 L612.95,25.63 L612.95,25.55 L612.96,25.11 L612.98,24.67 L612.98,24.42 L612.99,24.23 L613,23.79 L613.01,23.36 L613.02,23.25 L613.03,22.93 L613.04,22.5 L613.05,22.12 L613.05,22.08 L613.06,21.65 L613.08,21.23 L613.08,21.03 L613.09,20.81 L613.1,20.39 L613.11,19.97 L613.12,19.96 L613.13,19.54 L613.14,19.12 L613.15,18.94 L613.15,18.71 L613.17,18.29 L613.18,17.93 L613.18,17.87 L613.19,17.45 L613.2,17.03 L613.21,16.95 L613.22,16.61 L613.23,16.19 L613.23,15.98 L613.24,15.76 L613.25,15.34 L613.26,15.04 L613.27,14.92 L613.28,14.49 L613.29,14.11 L613.29,14.07 L613.3,13.64 L613.32,13.21 L613.32,13.19 L613.33,12.78 L613.34,12.35 L613.34,12.29 L613.35,11.91 L613.37,11.48 L613.37,11.4 L613.38,11.04 L613.39,10.6 L613.39,10.52 L613.4,10.16 L613.42,9.71 L613.42,9.66 L613.43,9.27 L613.44,8.81 L613.44,8.8 L613.45,8.36 L613.47,7.95 L613.47,7.9 L613.48,7.44 L613.49,7.11 L613.49,6.98 L613.51,6.52 L613.51,6.28 L613.52,6.04 L613.53,5.57 L613.53,5.46 L613.54,5.09 L613.55,4.64 L613.56,4.61 L613.57,4.12 L613.58,3.83 L613.58,3.63 L613.59,3.14 L613.6,3.03 L613.61,2.64 L613.62,2.23 L613.62,2.13 L613.63,1.62 L613.64,1.44 L613.64,1.11 L613.65,0.66 L613.66,0.58 L613.67,0.06 L613.67,-0.12 L613.68,-0.48 L613.69,-0.9 L613.69,-1.02 L613.71,-1.57 L613.71,-1.67 L613.72,-2.12 L613.73,-2.44 L613.73,-2.68 L613.74,-3.2 L613.74,-3.25 L613.76,-3.82 L613.76,-3.96 L613.77,-4.41 L613.78,-4.72 L613.78,-5 L613.79,-5.47 L613.79,-5.6 L613.81,-6.21 L613.81,-6.22 L613.82,-6.83 L613.82,-6.97 L613.83,-7.46 L613.84,-7.71 L613.85,-8.1 L613.85,-8.45 L613.86,-8.75 L613.87,-9.19 L613.87,-9.42 L613.88,-9.92 L613.88,-10.09 L613.89,-10.65 L613.9,-10.78 L613.91,-11.38 L613.91,-11.48 L613.92,-12.11 L613.92,-12.19 L613.93,-12.84 L613.93,-12.92 L613.94,-13.56 L613.95,-13.66 L613.96,-14.28 L613.96,-14.42 L613.97,-15 L613.97,-15.19 L613.98,-15.72 L613.98,-15.99 L613.99,-16.43 L614,-16.8 L614,-17.15 L614.01,-17.23 L614.02,-17.23 L614.03,-17.23 L614.04,-17.23 L614.05,-17.23 L614.06,-17.23 L614.07,-17.23 L614.08,-17.23 L614.09,-17.23 L614.1,-17.23 L614.11,-17.23 L614.12,-17.23 L614.13,-17.23 L614.14,-17.23 L614.15,-17.23 L614.16,-17.23 L614.17,-17.23 L614.18,-17.23 L614.19,-17.23 L614.2,-17.23 L614.21,-17.23 L614.22,-17.23 L614.23,-17.23 L614.24,-17.23 L614.25,-17.23 L614.26,-17.23 L614.27,-17.23 L614.28,-17.23 L614.29,-17.23 L614.3,-17.23 L614.31,-17.23 L614.32,-17.23 L614.33,-17.23 L614.34,-17.23 L614.35,-17.23 L614.36,-17.23 L614.37,-17.23 L614.38,-17.23 L614.39,-17.23 L614.4,-17.23 L614.41,-17.23 L614.42,-17.23 L614.43,-17.23 L614.44,-17.23 L614.45,-17.23 L614.46,-17.23" stroke="#8FB032" stroke-width="3.7" stroke-dasharray="8.5 2.35"/>
<path d="M95.06,160.03 L95.08,160.03 L95.09,160.03 L95.11,160.03 L95.13,160.03 L95.15,160.03 L95.17,160.03 L95.19,160.03 L95.21,160.03 L95.23,160.03 L95.25,160.03 L95.28,160.03 L95.3,160.03 L95.32,160.03 L95.35,160.03 L95.38,160.03 L95.4,160.03 L95.43,160.03 L95.46,160.03 L95.49,160.03 L95.52,160.03 L95.56,160.03 L95.59,160.03 L95.62,160.03 L95.66,160.03 L95.7,160.03 L95.73,160.03 L95.77,160.03 L95.81,160.03 L95.86,160.03 L95.9,160.03 L95.95,160.03 L95.99,160.03 L96.04,160.03 L96.09,160.03 L96.14,160.03 L96.2,160.03 L96.25,160.03 L96.31,160.03 L96.37,160.03 L96.43,160.03 L96.49,160.03 L96.56,160.03 L96.62,160.03 L96.69,160.03 L96.77,160.03 L96.84,160.03 L96.92,160.03 L97,160.03 L97.08,160.03 L97.17,160.03 L97.25,160.03 L97.34,160.03 L97.44,160.03 L97.54,160.03 L97.64,160.03 L97.74,160.03 L97.85,160.03 L97.96,160.03 L98.08,160.03 L98.19,160.03 L98.32,160.03 L98.44,160.03 L98.58,160.03 L98.71,160.03 L98.85,160.03 L99,160.03 L99.15,160.03 L99.3,160.03 L99.46,160.03 L99.63,160.03 L99.8,160.03 L99.98,160.03 L100.16,160.03 L100.35,160.03 L100.55,160.03 L100.75,160.03 L100.96,160.03 L101.18,160.03 L101.41,160.03 L101.64,160.03 L101.88,160.03 L102.13,160.03 L102.38,160.03 L102.65,160.03 L102.92,160.03 L103.21,160.02 L103.5,160.02 L103.8,160.02 L104.12,160.02 L104.44,160.02 L104.77,160.02 L105.12,160.02 L105.48,160.02 L105.85,160.02 L106.23,160.02 L106.63,160.02 L107.04,160.02 L107.46,160.01 L107.9,160.01 L108.35,160.01 L108.82,160.01 L109.3,160.01 L109.81,160.01 L110.32,160.01 L110.86,160 L111.41,160 L111.98,160 L112.57,160 L113.18,160 L113.82,159.99 L114.47,159.99 L115.15,159.99 L115.85,159.98 L116.57,159.98 L117.31,159.98 L118.09,159.97 L118.89,159.97 L119.71,159.97 L120.56,159.96 L122.79,159.95 L125.01,159.94 L127.23,159.92 L129.45,159.9 L131.67,159.89 L133.89,159.87 L136.11,159.85 L138.33,159.83 L140.55,159.81 L142.77,159.79 L144.99,159.76 L147.21,159.74 L149.43,159.71 L151.65,159.69 L153.88,159.66 L156.1,159.63 L158.32,159.6 L160.54,159.57 L162.76,159.54 L164.98,159.51 L167.2,159.47 L169.42,159.44 L171.64,159.4 L173.86,159.36 L176.08,159.33 L178.3,159.29 L180.52,159.25 L182.74,159.2 L184.96,159.16 L187.19,159.12 L189.41,159.07 L191.63,159.03 L193.85,158.98 L196.07,158.93 L198.29,158.88 L200.51,158.83 L202.73,158.78 L204.95,158.72 L207.17,158.67 L209.39,158.61 L211.61,158.56 L213.83,158.5 L216.05,158.44 L218.27,158.38 L220.5,158.32 L222.72,158.25 L224.94,158.19 L227.16,158.13 L229.38,158.06 L231.6,157.99 L233.82,157.92 L236.04,157.85 L238.26,157.78 L240.48,157.71 L242.7,157.63 L244.92,157.56 L247.14,157.48 L249.36,157.4 L251.59,157.32 L253.81,157.24 L256.03,157.16 L258.25,157.07 L260.47,156.99 L262.69,156.9 L264.91,156.81 L267.13,156.72 L269.35,156.63 L271.57,156.54 L273.79,156.45 L276.01,156.35 L278.23,156.25 L280.45,156.15 L282.67,156.05 L284.9,155.95 L287.12,155.85 L289.34,155.74 L291.56,155.64 L293.78,155.53 L296,155.42 L298.22,155.31 L300.44,155.2 L302.66,155.08 L304.88,154.97 L307.1,154.85 L309.32,154.73 L311.54,154.61 L313.76,154.48 L315.98,154.36 L318.21,154.23 L320.43,154.1 L322.65,153.97 L324.87,153.84 L327.09,153.7 L329.31,153.57 L331.53,153.43 L333.75,153.29 L335.97,153.15 L338.19,153 L340.41,152.86 L342.63,152.71 L344.85,152.56 L347.07,152.4 L349.29,152.25 L351.52,152.09 L353.74,151.93 L355.96,151.77 L358.18,151.61 L360.4,151.44 L362.62,151.27 L364.84,151.1 L367.06,150.93 L369.28,150.75 L371.5,150.57 L373.72,150.39 L375.94,150.21 L378.16,150.02 L380.38,149.83 L382.61,149.64 L384.83,149.44 L387.05,149.25 L389.27,149.04 L391.49,148.84 L393.71,148.63 L395.93,148.42 L398.15,148.21 L400.37,148 L402.59,147.78 L404.81,147.55 L407.03,147.33 L409.25,147.1 L411.47,146.86 L413.69,146.63 L415.92,146.39 L418.14,146.14 L420.36,145.9 L422.58,145.64 L424.8,145.39 L427.02,145.13 L429.24,144.87 L431.46,144.6 L433.68,144.32 L435.9,144.05 L438.12,143.77 L440.34,143.48 L442.56,143.19 L444.78,142.89 L447,142.59 L449.23,142.29 L451.45,141.97 L453.67,141.66 L455.89,141.34 L458.11,141.01 L460.33,140.67 L462.55,140.33 L464.77,139.99 L466.99,139.63 L469.21,139.27 L471.43,138.91 L473.65,138.54 L475.87,138.16 L478.09,137.77 L480.31,137.37 L482.54,136.97 L484.76,136.56 L486.98,136.14 L489.2,135.71 L491.42,135.27 L493.64,134.83 L495.86,134.37 L498.08,133.9 L500.3,133.43 L502.52,132.94 L504.74,132.44 L506.96,131.93 L509.18,131.4 L511.4,130.87 L513.63,130.32 L515.85,129.76 L518.07,129.18 L520.29,128.59 L522.51,127.98 L524.73,127.35 L526.95,126.71 L529.17,126.05 L531.39,125.37 L533.61,124.67 L535.83,123.95 L538.05,123.2 L540.27,122.44 L542.49,121.64 L544.71,120.82 L546.94,119.97 L549.16,119.09 L551.38,118.18 L553.6,117.24 L555.82,116.25 L558.04,115.23 L560.26,114.16 L562.48,113.04 L563.67,112.43 L564.83,111.81 L565.96,111.19 L567.07,110.57 L568.15,109.95 L569.2,109.33 L570.24,108.71 L571.25,108.09 L572.23,107.47 L573.2,106.85 L574.14,106.23 L575.06,105.6 L575.96,104.98 L576.84,104.35 L577.7,103.73 L578.53,103.11 L579.35,102.48 L580.16,101.85 L580.94,101.23 L581.7,100.6 L582.45,99.98 L583.18,99.35 L583.9,98.72 L584.59,98.09 L585.28,97.47 L585.94,96.84 L586.59,96.21 L587.23,95.58 L587.85,94.95 L588.46,94.32 L589.05,93.69 L589.63,93.07 L590.2,92.44 L590.75,91.81 L591.29,91.18 L591.82,90.55 L592.34,89.92 L592.84,89.29 L593.34,88.66 L593.82,88.03 L594.29,87.4 L594.75,86.77 L595.2,86.14 L595.64,85.51 L596.07,84.88 L596.49,84.25 L596.9,83.62 L597.3,82.99 L597.69,82.36 L598.08,81.73 L598.45,81.11 L598.82,80.48 L599.17,79.85 L599.52,79.22 L599.86,78.59 L600.2,77.96 L600.52,77.34 L600.84,76.71 L601.15,76.08 L601.46,75.46 L601.75,74.83 L602.04,74.2 L602.33,73.58 L602.6,72.95 L602.87,72.33 L603.14,71.7 L603.4,71.08 L603.65,70.46 L603.9,69.83 L604.14,69.21 L604.37,68.59 L604.6,67.97 L604.83,67.35 L605.05,66.73 L605.26,66.11 L605.47,65.49 L605.68,64.87 L605.88,64.26 L606.08,63.64 L606.27,63.02 L606.46,62.41 L606.64,61.8 L606.67,61.68 L606.68,61.64 L606.7,61.6 L606.71,61.55 L606.72,61.51 L606.73,61.47 L606.75,61.42 L606.76,61.38 L606.77,61.34 L606.78,61.29 L606.8,61.25 L606.81,61.21 L606.82,61.18 L606.82,61.16 L606.84,61.12 L606.85,61.08 L606.86,61.03 L606.87,60.99 L606.89,60.94 L606.9,60.9 L606.91,60.86 L606.92,60.81 L606.94,60.77 L606.95,60.72 L606.96,60.68 L606.97,60.63 L606.99,60.59 L606.99,60.57 L607,60.55 L607.01,60.5 L607.02,60.46 L607.04,60.41 L607.05,60.37 L607.06,60.32 L607.07,60.28 L607.09,60.23 L607.1,60.19 L607.11,60.14 L607.12,60.1 L607.14,60.05 L607.15,60.01 L607.16,59.96 L607.17,59.91 L607.19,59.87 L607.2,59.82 L607.21,59.78 L607.23,59.73 L607.24,59.69 L607.25,59.64 L607.26,59.59 L607.28,59.55 L607.29,59.5 L607.3,59.45 L607.31,59.41 L607.33,59.36 L607.33,59.35 L607.34,59.31 L607.35,59.27 L607.36,59.22 L607.38,59.17 L607.39,59.13 L607.4,59.08 L607.41,59.03 L607.43,58.99 L607.44,58.94 L607.45,58.89 L607.46,58.85 L607.48,58.8 L607.49,58.75 L607.49,58.74 L607.5,58.7 L607.51,58.66 L607.53,58.61 L607.54,58.56 L607.55,58.51 L607.57,58.46 L607.58,58.42 L607.59,58.37 L607.6,58.32 L607.62,58.27 L607.63,58.22 L607.64,58.17 L607.65,58.13 L607.67,58.08 L607.68,58.03 L607.69,57.98 L607.7,57.93 L607.72,57.88 L607.73,57.83 L607.74,57.78 L607.75,57.74 L607.77,57.69 L607.78,57.64 L607.79,57.59 L607.8,57.54 L607.81,57.53 L607.82,57.49 L607.83,57.44 L607.84,57.39 L607.85,57.34 L607.87,57.29 L607.88,57.24 L607.89,57.19 L607.9,57.14 L607.92,57.09 L607.93,57.04 L607.94,56.99 L607.96,56.94 L607.96,56.92 L607.97,56.89 L607.98,56.84 L607.99,56.78 L608.01,56.73 L608.02,56.68 L608.03,56.63 L608.04,56.58 L608.06,56.53 L608.07,56.48 L608.08,56.43 L608.09,56.37 L608.11,56.32 L608.12,56.27 L608.13,56.22 L608.14,56.17 L608.16,56.12 L608.17,56.06 L608.18,56.01 L608.19,55.96 L608.21,55.91 L608.22,55.85 L608.23,55.8 L608.24,55.75 L608.25,55.72 L608.26,55.7 L608.27,55.64 L608.28,55.59 L608.29,55.54 L608.31,55.48 L608.32,55.43 L608.33,55.38 L608.35,55.32 L608.36,55.27 L608.37,55.22 L608.38,55.16 L608.39,55.11 L608.4,55.11 L608.41,55.05 L608.42,55 L608.43,54.95 L608.45,54.89 L608.46,54.84 L608.47,54.78 L608.48,54.73 L608.5,54.67 L608.51,54.62 L608.52,54.56 L608.53,54.51 L608.55,54.45 L608.56,54.4 L608.57,54.34 L608.58,54.29 L608.6,54.23 L608.61,54.18 L608.62,54.12 L608.63,54.07 L608.65,54.01 L608.66,53.95 L608.67,53.92 L608.67,53.9 L608.69,53.84 L608.7,53.79 L608.71,53.73 L608.72,53.67 L608.74,53.62 L608.75,53.56 L608.76,53.5 L608.77,53.44 L608.79,53.39 L608.8,53.33 L608.8,53.32 L608.81,53.27 L608.82,53.22 L608.84,53.16 L608.85,53.1 L608.86,53.04 L608.87,52.98 L608.89,52.93 L608.9,52.87 L608.91,52.81 L608.92,52.75 L608.93,52.72 L608.94,52.69 L608.95,52.63 L608.96,52.58 L608.97,52.52 L608.99,52.46 L609,52.4 L609.01,52.34 L609.02,52.28 L609.04,52.22 L609.05,52.16 L609.06,52.13 L609.06,52.1 L609.08,52.04 L609.09,51.98 L609.1,51.92 L609.11,51.86 L609.13,51.8 L609.14,51.74 L609.15,51.68 L609.16,51.62 L609.18,51.56 L609.18,51.54 L609.19,51.5 L609.2,51.44 L609.21,51.38 L609.23,51.31 L609.24,51.25 L609.25,51.19 L609.26,51.13 L609.28,51.07 L609.29,51.01 L609.3,50.95 L609.3,50.94 L609.31,50.88 L609.33,50.82 L609.34,50.76 L609.35,50.69 L609.36,50.63 L609.38,50.57 L609.39,50.5 L609.4,50.44 L609.42,50.38 L609.42,50.36 L609.43,50.31 L609.44,50.25 L609.45,50.19 L609.47,50.12 L609.48,50.06 L609.49,50 L609.5,49.93 L609.52,49.87 L609.53,49.8 L609.53,49.77 L609.54,49.74 L609.55,49.67 L609.57,49.61 L609.58,49.54 L609.59,49.48 L609.6,49.41 L609.62,49.35 L609.63,49.28 L609.64,49.22 L609.65,49.19 L609.65,49.15 L609.67,49.08 L609.68,49.02 L609.69,48.95 L609.7,48.88 L609.72,48.82 L609.73,48.75 L609.74,48.68 L609.75,48.62 L609.76,48.61 L609.77,48.55 L609.78,48.48 L609.79,48.41 L609.81,48.35 L609.82,48.28 L609.83,48.21 L609.84,48.14 L609.86,48.07 L609.86,48.03 L609.87,48.01 L609.88,47.94 L609.89,47.87 L609.91,47.8 L609.92,47.73 L609.93,47.66 L609.94,47.59 L609.96,47.52 L609.97,47.45 L609.98,47.38 L609.99,47.31 L610.01,47.24 L610.02,47.17 L610.03,47.1 L610.04,47.03 L610.06,46.96 L610.07,46.89 L610.07,46.87 L610.08,46.82 L610.09,46.75 L610.11,46.67 L610.12,46.6 L610.13,46.53 L610.15,46.46 L610.16,46.39 L610.17,46.31 L610.17,46.3 L610.18,46.24 L610.2,46.17 L610.21,46.1 L610.22,46.02 L610.23,45.95 L610.25,45.88 L610.26,45.8 L610.27,45.73 L610.28,45.65 L610.3,45.58 L610.31,45.51 L610.32,45.43 L610.33,45.36 L610.35,45.28 L610.36,45.21 L610.37,45.16 L610.37,45.13 L610.38,45.06 L610.4,44.98 L610.41,44.91 L610.42,44.83 L610.43,44.75 L610.45,44.68 L610.46,44.6 L610.47,44.52 L610.48,44.45 L610.5,44.37 L610.51,44.29 L610.52,44.22 L610.54,44.14 L610.55,44.06 L610.55,44.04 L610.56,43.98 L610.57,43.9 L610.59,43.83 L610.6,43.75 L610.61,43.67 L610.62,43.59 L610.64,43.51 L610.64,43.48 L610.65,43.43 L610.66,43.35 L610.67,43.27 L610.69,43.19 L610.7,43.11 L610.71,43.03 L610.72,42.95 L610.73,42.92 L610.74,42.87 L610.75,42.79 L610.76,42.71 L610.77,42.63 L610.79,42.55 L610.8,42.46 L610.81,42.38 L610.81,42.37 L610.82,42.3 L610.84,42.22 L610.85,42.14 L610.86,42.05 L610.87,41.97 L610.89,41.89 L610.9,41.82 L610.9,41.8 L610.91,41.72 L610.93,41.64 L610.94,41.55 L610.95,41.47 L610.96,41.38 L610.98,41.3 L610.98,41.28 L610.99,41.22 L611,41.13 L611.01,41.05 L611.03,40.96 L611.04,40.87 L611.05,40.79 L611.06,40.74 L611.06,40.7 L611.08,40.62 L611.09,40.53 L611.1,40.44 L611.11,40.36 L611.13,40.27 L611.14,40.2 L611.14,40.18 L611.15,40.1 L611.16,40.01 L611.18,39.92 L611.19,39.83 L611.2,39.74 L611.21,39.67 L611.21,39.66 L611.23,39.57 L611.24,39.48 L611.25,39.39 L611.27,39.3 L611.28,39.21 L611.29,39.15 L611.29,39.12 L611.3,39.03 L611.32,38.94 L611.33,38.85 L611.34,38.76 L611.35,38.67 L611.36,38.62 L611.37,38.58 L611.38,38.49 L611.39,38.4 L611.4,38.3 L611.42,38.21 L611.43,38.12 L611.43,38.11 L611.44,38.03 L611.45,37.94 L611.47,37.84 L611.48,37.75 L611.49,37.66 L611.5,37.6 L611.5,37.56 L611.52,37.47 L611.53,37.38 L611.54,37.28 L611.55,37.19 L611.57,37.1 L611.57,37.09 L611.58,37 L611.59,36.91 L611.6,36.81 L611.62,36.72 L611.63,36.62 L611.63,36.6 L611.64,36.53 L611.66,36.43 L611.67,36.34 L611.68,36.24 L611.69,36.14 L611.7,36.1 L611.71,36.05 L611.72,35.95 L611.73,35.86 L611.74,35.76 L611.76,35.66 L611.76,35.62 L611.77,35.57 L611.78,35.47 L611.79,35.37 L611.81,35.28 L611.82,35.18 L611.82,35.14 L611.83,35.08 L611.84,34.98 L611.86,34.89 L611.87,34.79 L611.88,34.69 L611.88,34.67 L611.89,34.59 L611.91,34.49 L611.92,34.4 L611.93,34.3 L611.94,34.21 L611.94,34.2 L611.96,34.1 L611.97,34 L611.98,33.9 L612,33.81 L612,33.76 L612.01,33.71 L612.02,33.61 L612.03,33.51 L612.05,33.41 L612.06,33.32 L612.07,33.22 L612.08,33.12 L612.1,33.02 L612.11,32.92 L612.11,32.89 L612.12,32.82 L612.13,32.73 L612.15,32.63 L612.16,32.53 L612.17,32.48 L612.17,32.43 L612.18,32.34 L612.2,32.24 L612.21,32.14 L612.22,32.07 L612.22,32.05 L612.23,31.95 L612.25,31.86 L612.26,31.76 L612.27,31.68 L612.27,31.67 L612.28,31.57 L612.3,31.48 L612.31,31.38 L612.32,31.31 L612.32,31.29 L612.33,31.2 L612.35,31.1 L612.36,31.01 L612.37,30.95 L612.37,30.92 L612.39,30.83 L612.4,30.74 L612.41,30.65 L612.42,30.61 L612.42,30.57 L612.44,30.48 L612.45,30.39 L612.46,30.31 L612.46,30.29 L612.47,30.23 L612.49,30.14 L612.5,30.06 L612.51,29.99 L612.51,29.98 L612.52,29.91 L612.54,29.83 L612.55,29.75 L612.55,29.72 L612.56,29.68 L612.57,29.61 L612.59,29.54 L612.6,29.48 L612.6,29.47 L612.61,29.41 L612.62,29.35 L612.64,29.29 L612.64,29.27 L612.65,29.23 L612.66,29.18 L612.67,29.12 L612.68,29.1 L612.69,29.08 L612.7,29.03 L612.71,28.99 L612.72,28.96 L612.74,28.88 L612.75,28.67 L612.76,28.47 L612.76,28.46 L612.78,28.26 L612.79,28.04 L612.8,27.83 L612.8,27.81 L612.81,27.62 L612.83,27.4 L612.84,27.18 L612.84,27.15 L612.85,26.96 L612.86,26.74 L612.88,26.52 L612.88,26.5 L612.89,26.29 L612.9,26.07 L612.91,25.84 L612.93,25.61 L612.94,25.38 L612.95,25.19 L612.95,25.14 L612.96,24.91 L612.98,24.67 L612.98,24.53 L612.99,24.43 L613,24.19 L613.01,23.94 L613.02,23.88 L613.03,23.7 L613.04,23.45 L613.05,23.22 L613.05,23.2 L613.06,22.94 L613.08,22.69 L613.08,22.57 L613.09,22.43 L613.1,22.17 L613.11,21.91 L613.12,21.91 L613.13,21.64 L613.14,21.38 L613.15,21.26 L613.15,21.11 L613.17,20.84 L613.18,20.6 L613.18,20.56 L613.19,20.28 L613.2,20 L613.21,19.95 L613.22,19.72 L613.23,19.43 L613.23,19.29 L613.24,19.14 L613.25,18.85 L613.26,18.64 L613.27,18.56 L613.28,18.26 L613.29,17.98 L613.29,17.96 L613.3,17.65 L613.32,17.35 L613.32,17.33 L613.33,17.03 L613.34,16.72 L613.34,16.68 L613.35,16.4 L613.37,16.08 L613.37,16.02 L613.38,15.75 L613.39,15.42 L613.39,15.37 L613.4,15.09 L613.42,14.75 L613.42,14.71 L613.43,14.39 L613.44,13.56 L613.44,13.53 L613.45,12.75 L613.47,12.03 L613.47,11.94 L613.48,11.15 L613.49,10.58 L613.49,10.36 L613.51,9.58 L613.51,9.19 L613.52,8.8 L613.53,8.03 L613.53,7.85 L613.54,7.26 L613.55,6.54 L613.56,6.49 L613.57,5.73 L613.58,5.27 L613.58,4.96 L613.59,4.2 L613.6,4.04 L613.61,3.43 L613.62,2.82 L613.62,2.67 L613.63,1.9 L613.64,1.63 L613.64,1.13 L613.65,0.47 L613.66,0.36 L613.67,-0.42 L613.67,-0.68 L613.68,-1.2 L613.69,-1.81 L613.69,-1.98 L613.71,-2.77 L613.71,-2.92 L613.72,-3.56 L613.73,-4.02 L613.73,-4.36 L613.74,-5.11 L613.74,-5.17 L613.76,-5.98 L613.76,-6.18 L613.77,-6.81 L613.78,-7.24 L613.78,-7.64 L613.79,-8.29 L613.79,-8.47 L613.81,-9.32 L613.81,-9.33 L613.82,-10.18 L613.82,-10.37 L613.83,-11.05 L613.84,-11.39 L613.85,-11.93 L613.85,-12.41 L613.86,-12.82 L613.87,-13.41 L613.87,-13.73 L613.88,-14.42 L613.88,-14.64 L613.89,-15.41 L613.9,-15.58 L613.91,-16.4 L613.91,-16.52 L613.92,-17.23 L613.93,-17.23 L613.94,-17.23 L613.95,-17.23 L613.96,-17.23 L613.97,-17.23 L613.98,-17.23 L613.99,-17.23 L614,-17.23 L614.01,-17.23 L614.02,-17.23 L614.03,-17.23 L614.04,-17.23 L614.05,-17.23 L614.06,-17.23 L614.07,-17.23 L614.08,-17.23 L614.09,-17.23 L614.1,-17.23 L614.11,-17.23 L614.12,-17.23 L614.13,-17.23 L614.14,-17.23 L614.15,-17.23 L614.16,-17.23 L614.17,-17.23 L614.18,-17.23 L614.19,-17.23 L614.2,-17.23 L614.21,-17.23 L614.22,-17.23 L614.23,-17.23 L614.24,-17.23 L614.25,-17.23 L614.26,-17.23 L614.27,-17.23 L614.28,-17.23 L614.29,-17.23 L614.3,-17.23 L614.31,-17.23 L614.32,-17.23 L614.33,-17.23 L614.34,-17.23 L614.35,-17.23 L614.36,-17.23 L614.37,-17.23 L614.38,-17.23 L614.39,-17.23 L614.4,-17.23 L614.41,-17.23 L614.42,-17.23 L614.43,-17.23 L614.44,-17.23 L614.45,-17.23 L614.46,-17.23" stroke="#EB6235" stroke-width="3.7" stroke-dasharray="8.5 2.35"/>
<path d="M95.06,200 L95.08,200 L95.09,200 L95.11,200 L95.13,200 L95.15,200 L95.17,200 L95.19,200 L95.21,200 L95.23,200 L95.25,200 L95.28,200 L95.3,200 L95.32,200 L95.35,200 L95.38,200 L95.4,200 L95.43,200 L95.46,200 L95.49,200 L95.52,200 L95.56,200 L95.59,200 L95.62,200 L95.66,200 L95.7,200 L95.73,200 L95.77,200 L95.81,200 L95.86,200 L95.9,200 L95.95,200 L95.99,200 L96.04,200 L96.09,200 L96.14,200 L96.2,200 L96.25,200 L96.31,200 L96.37,200 L96.43,200 L96.49,200 L96.56,200 L96.62,200 L96.69,200 L96.77,200 L96.84,200 L96.92,200 L97,200 L97.08,200 L97.17,200 L97.25,200 L97.34,200 L97.44,200 L97.54,200 L97.64,200 L97.74,200 L97.85,200 L97.96,200 L98.08,200 L98.19,200 L98.32,200 L98.44,200 L98.58,200 L98.71,200 L98.85,200 L99,200 L99.15,200 L99.3,200 L99.46,200 L99.63,200 L99.8,200 L99.98,200 L100.16,200 L100.35,200 L100.55,200 L100.75,200 L100.96,200 L101.18,200 L101.41,200 L101.64,200 L101.88,200 L102.13,200 L102.38,200 L102.65,200 L102.92,199.99 L103.21,199.99 L103.5,199.99 L103.8,199.99 L104.12,199.99 L104.44,199.99 L104.77,199.99 L105.12,199.99 L105.48,199.99 L105.85,199.99 L106.23,199.99 L106.63,199.98 L107.04,199.98 L107.46,199.98 L107.9,199.98 L108.35,199.98 L108.82,199.98 L109.3,199.97 L109.81,199.97 L110.32,199.97 L110.86,199.97 L111.41,199.97 L111.98,199.96 L112.57,199.96 L113.18,199.96 L113.82,199.95 L114.47,199.95 L115.15,199.95 L115.85,199.94 L116.57,199.94 L117.31,199.93 L118.09,199.93 L118.89,199.92 L119.71,199.92 L120.56,199.91 L122.79,199.9 L125.01,199.88 L127.23,199.86 L129.45,199.84 L131.67,199.82 L133.89,199.79 L136.11,199.77 L138.33,199.74 L140.55,199.72 L142.77,199.69 L144.99,199.66 L147.21,199.63 L149.43,199.6 L151.65,199.56 L153.88,199.53 L156.1,199.49 L158.32,199.45 L160.54,199.41 L162.76,199.37 L164.98,199.33 L167.2,199.28 L169.42,199.24 L171.64,199.19 L173.86,199.15 L176.08,199.1 L178.3,199.05 L180.52,198.99 L182.74,198.94 L184.96,198.88 L187.19,198.83 L189.41,198.77 L191.63,198.71 L193.85,198.65 L196.07,198.59 L198.29,198.52 L200.51,198.46 L202.73,198.39 L204.95,198.32 L207.17,198.25 L209.39,198.18 L211.61,198.11 L213.83,198.03 L216.05,197.96 L218.27,197.88 L220.5,197.8 L222.72,197.72 L224.94,197.63 L227.16,197.55 L229.38,197.46 L231.6,197.38 L233.82,197.29 L236.04,197.2 L238.26,197.1 L240.48,197.01 L242.7,196.91 L244.92,196.82 L247.14,196.72 L249.36,196.62 L251.59,196.51 L253.81,196.41 L256.03,196.3 L258.25,196.2 L260.47,196.09 L262.69,195.97 L264.91,195.86 L267.13,195.75 L269.35,195.63 L271.57,195.51 L273.79,195.39 L276.01,195.27 L278.23,195.14 L280.45,195.01 L282.67,194.89 L284.9,194.75 L287.12,194.62 L289.34,194.49 L291.56,194.35 L293.78,194.21 L296,194.07 L298.22,193.93 L300.44,193.78 L302.66,193.63 L304.88,193.48 L307.1,193.33 L309.32,193.18 L311.54,193.02 L313.76,192.86 L315.98,192.7 L318.21,192.54 L320.43,192.37 L322.65,192.21 L324.87,192.04 L327.09,191.86 L329.31,191.69 L331.53,191.51 L333.75,191.33 L335.97,191.14 L338.19,190.96 L340.41,190.77 L342.63,190.58 L344.85,190.39 L347.07,190.19 L349.29,189.99 L351.52,189.79 L353.74,189.58 L355.96,189.37 L358.18,189.16 L360.4,188.95 L362.62,188.73 L364.84,188.51 L367.06,188.29 L369.28,188.06 L371.5,187.83 L373.72,187.6 L375.94,187.36 L378.16,187.12 L380.38,186.88 L382.61,186.63 L384.83,186.38 L387.05,186.12 L389.27,185.87 L391.49,185.6 L393.71,185.34 L395.93,185.07 L398.15,184.79 L400.37,184.51 L402.59,184.23 L404.81,183.95 L407.03,183.66 L409.25,183.36 L411.47,183.06 L413.69,182.76 L415.92,182.45 L418.14,182.13 L420.36,181.81 L422.58,181.49 L424.8,181.16 L427.02,180.83 L429.24,180.49 L431.46,180.14 L433.68,179.79 L435.9,179.43 L438.12,179.07 L440.34,178.7 L442.56,178.33 L444.78,177.95 L447,177.56 L449.23,177.17 L451.45,176.77 L453.67,176.36 L455.89,175.94 L458.11,175.52 L460.33,175.09 L462.55,174.65 L464.77,174.21 L466.99,173.75 L469.21,173.29 L471.43,172.82 L473.65,172.34 L475.87,171.85 L478.09,171.35 L480.31,170.84 L482.54,170.32 L484.76,169.79 L486.98,169.25 L489.2,168.7 L491.42,168.14 L493.64,167.56 L495.86,166.97 L498.08,166.37 L500.3,165.76 L502.52,165.13 L504.74,164.49 L506.96,163.83 L509.18,163.15 L511.4,162.46 L513.63,161.76 L515.85,161.03 L518.07,160.29 L520.29,159.52 L522.51,158.74 L524.73,157.93 L526.95,157.11 L529.17,156.26 L531.39,155.38 L533.61,154.48 L535.83,153.55 L538.05,152.59 L540.27,151.6 L542.49,150.58 L544.71,149.52 L546.94,148.43 L549.16,147.29 L551.38,146.12 L553.6,144.89 L555.82,143.62 L558.04,142.3 L560.26,140.92 L562.48,139.49 L563.67,138.69 L564.83,137.89 L565.96,137.1 L567.07,136.3 L568.15,135.5 L569.2,134.7 L570.24,133.9 L571.25,133.09 L572.23,132.29 L573.2,131.49 L574.14,130.68 L575.06,129.88 L575.96,129.07 L576.84,128.27 L577.7,127.46 L578.53,126.65 L579.35,125.84 L580.16,125.04 L580.94,124.23 L581.7,123.42 L582.45,122.61 L583.18,121.8 L583.9,120.98 L584.59,120.17 L585.28,119.36 L585.94,118.55 L586.59,117.73 L587.23,116.92 L587.85,116.11 L588.46,115.29 L589.05,114.48 L589.63,113.66 L590.2,112.85 L590.75,112.03 L591.29,111.22 L591.82,110.4 L592.34,109.58 L592.84,108.77 L593.34,107.95 L593.82,107.13 L594.29,106.32 L594.75,105.5 L595.2,104.68 L595.64,103.86 L596.07,103.04 L596.49,102.23 L596.9,101.41 L597.3,100.59 L597.69,99.77 L598.08,98.95 L598.45,98.14 L598.82,97.32 L599.17,96.5 L599.52,95.68 L599.86,94.86 L600.2,94.04 L600.52,93.22 L600.84,92.41 L601.15,91.59 L601.46,90.77 L601.75,89.95 L602.04,89.13 L602.33,88.32 L602.6,87.5 L602.87,86.68 L603.14,85.86 L603.4,85.05 L603.65,84.23 L603.9,83.41 L604.14,82.6 L604.37,81.78 L604.6,80.96 L604.83,80.15 L605.05,79.33 L605.26,78.52 L605.47,77.7 L605.68,76.89 L605.88,76.08 L606.08,75.26 L606.27,74.45 L606.46,73.64 L606.64,72.82 L606.67,72.67 L606.68,72.62 L606.7,72.56 L606.71,72.5 L606.72,72.45 L606.73,72.39 L606.75,72.33 L606.76,72.28 L606.77,72.22 L606.78,72.16 L606.8,72.1 L606.81,72.05 L606.82,72.01 L606.82,71.99 L606.84,71.93 L606.85,71.87 L606.86,71.81 L606.87,71.76 L606.89,71.7 L606.9,71.64 L606.91,71.58 L606.92,71.52 L606.94,71.46 L606.95,71.4 L606.96,71.35 L606.97,71.29 L606.99,71.23 L606.99,71.2 L607,71.17 L607.01,71.11 L607.02,71.05 L607.04,70.99 L607.05,70.93 L607.06,70.87 L607.07,70.81 L607.09,70.75 L607.1,70.69 L607.11,70.63 L607.12,70.57 L607.14,70.51 L607.15,70.45 L607.16,70.39 L607.17,70.33 L607.19,70.27 L607.2,70.21 L607.21,70.15 L607.23,70.09 L607.24,70.03 L607.25,69.97 L607.26,69.9 L607.28,69.84 L607.29,69.78 L607.3,69.72 L607.31,69.66 L607.33,69.6 L607.33,69.58 L607.34,69.53 L607.35,69.47 L607.36,69.41 L607.38,69.35 L607.39,69.29 L607.4,69.22 L607.41,69.16 L607.43,69.1 L607.44,69.04 L607.45,68.97 L607.46,68.91 L607.48,68.85 L607.49,68.78 L607.49,68.77 L607.5,68.72 L607.51,68.66 L607.53,68.59 L607.54,68.53 L607.55,68.47 L607.57,68.4 L607.58,68.34 L607.59,68.27 L607.6,68.21 L607.62,68.15 L607.63,68.08 L607.64,68.02 L607.65,67.96 L607.65,67.95 L607.67,67.89 L607.68,67.82 L607.69,67.76 L607.7,67.69 L607.72,67.63 L607.73,67.56 L607.74,67.5 L607.75,67.43 L607.77,67.37 L607.78,67.3 L607.79,67.23 L607.8,67.17 L607.81,67.16 L607.82,67.1 L607.83,67.04 L607.84,66.97 L607.85,66.9 L607.87,66.84 L607.88,66.77 L607.89,66.7 L607.9,66.64 L607.92,66.57 L607.93,66.5 L607.94,66.43 L607.96,66.37 L607.96,66.35 L607.97,66.3 L607.98,66.23 L607.99,66.16 L608.01,66.1 L608.02,66.03 L608.03,65.96 L608.04,65.89 L608.06,65.82 L608.07,65.75 L608.08,65.69 L608.09,65.62 L608.11,65.55 L608.11,65.54 L608.12,65.48 L608.13,65.41 L608.14,65.34 L608.16,65.27 L608.17,65.2 L608.18,65.13 L608.19,65.06 L608.21,64.99 L608.22,64.92 L608.23,64.85 L608.24,64.78 L608.25,64.74 L608.26,64.71 L608.27,64.64 L608.28,64.57 L608.29,64.5 L608.31,64.42 L608.32,64.35 L608.33,64.28 L608.35,64.21 L608.36,64.14 L608.37,64.07 L608.38,63.99 L608.39,63.93 L608.4,63.92 L608.41,63.85 L608.42,63.78 L608.43,63.71 L608.45,63.63 L608.46,63.56 L608.47,63.49 L608.48,63.41 L608.5,63.34 L608.51,63.27 L608.52,63.19 L608.53,63.13 L608.53,63.12 L608.55,63.05 L608.56,62.97 L608.57,62.9 L608.58,62.82 L608.6,62.75 L608.61,62.67 L608.62,62.6 L608.63,62.52 L608.65,62.45 L608.66,62.37 L608.67,62.32 L608.67,62.3 L608.69,62.22 L608.7,62.15 L608.71,62.07 L608.72,61.99 L608.74,61.92 L608.75,61.84 L608.76,61.76 L608.77,61.69 L608.79,61.61 L608.8,61.53 L608.8,61.52 L608.81,61.46 L608.82,61.38 L608.84,61.3 L608.85,61.22 L608.86,61.15 L608.87,61.07 L608.89,60.99 L608.9,60.91 L608.91,60.83 L608.92,60.75 L608.93,60.72 L608.94,60.68 L608.95,60.6 L608.96,60.52 L608.97,60.44 L608.99,60.36 L609,60.28 L609.01,60.2 L609.02,60.12 L609.04,60.04 L609.05,59.96 L609.06,59.92 L609.06,59.88 L609.08,59.8 L609.09,59.72 L609.1,59.63 L609.11,59.55 L609.13,59.47 L609.14,59.39 L609.15,59.31 L609.16,59.23 L609.18,59.14 L609.18,59.12 L609.19,59.06 L609.2,58.98 L609.21,58.9 L609.23,58.81 L609.24,58.73 L609.25,58.65 L609.26,58.56 L609.28,58.48 L609.29,58.39 L609.3,58.32 L609.3,58.31 L609.31,58.23 L609.33,58.14 L609.34,58.06 L609.35,57.97 L609.36,57.89 L609.38,57.8 L609.39,57.72 L609.4,57.63 L609.42,57.54 L609.42,57.52 L609.43,57.46 L609.44,57.37 L609.45,57.29 L609.47,57.2 L609.48,57.11 L609.49,57.02 L609.5,56.94 L609.52,56.85 L609.53,56.76 L609.53,56.72 L609.54,56.67 L609.55,56.59 L609.57,56.5 L609.58,56.41 L609.59,56.32 L609.6,56.23 L609.62,56.14 L609.63,56.05 L609.64,55.96 L609.65,55.93 L609.65,55.87 L609.67,55.78 L609.68,55.69 L609.69,55.6 L609.7,55.51 L609.72,55.42 L609.73,55.33 L609.74,55.24 L609.75,55.14 L609.76,55.13 L609.77,55.05 L609.78,54.96 L609.79,54.87 L609.81,54.78 L609.82,54.68 L609.83,54.59 L609.84,54.5 L609.86,54.4 L609.86,54.34 L609.87,54.31 L609.88,54.21 L609.89,54.12 L609.91,54.03 L609.92,53.93 L609.93,53.84 L609.94,53.74 L609.96,53.65 L609.97,53.55 L609.97,53.54 L609.98,53.45 L609.99,53.36 L610.01,53.26 L610.02,53.16 L610.03,53.07 L610.04,52.97 L610.06,52.87 L610.07,52.77 L610.07,52.75 L610.08,52.68 L610.09,52.58 L610.11,52.48 L610.12,52.38 L610.13,52.28 L610.15,52.18 L610.16,52.08 L610.17,51.98 L610.17,51.96 L610.18,51.88 L610.2,51.78 L610.21,51.68 L610.22,51.58 L610.23,51.48 L610.25,51.38 L610.26,51.28 L610.27,51.18 L610.27,51.17 L610.28,51.07 L610.3,50.97 L610.31,50.87 L610.32,50.76 L610.33,50.66 L610.35,50.55 L610.36,50.45 L610.37,50.39 L610.37,50.35 L610.38,50.24 L610.4,50.14 L610.41,50.03 L610.42,49.93 L610.43,49.82 L610.45,49.71 L610.46,49.61 L610.46,49.6 L610.47,49.5 L610.48,49.39 L610.5,49.29 L610.51,49.18 L610.52,49.07 L610.54,48.96 L610.55,48.85 L610.55,48.82 L610.56,48.74 L610.57,48.63 L610.59,48.52 L610.6,48.41 L610.61,48.3 L610.62,48.19 L610.64,48.08 L610.64,48.04 L610.65,47.97 L610.66,47.86 L610.67,47.75 L610.69,47.64 L610.7,47.52 L610.71,47.41 L610.72,47.3 L610.73,47.26 L610.74,47.18 L610.75,47.07 L610.76,46.95 L610.77,46.84 L610.79,46.72 L610.8,46.61 L610.81,46.49 L610.81,46.48 L610.82,46.38 L610.84,46.26 L610.85,46.14 L610.86,46.03 L610.87,45.91 L610.89,45.79 L610.9,45.7 L610.9,45.67 L610.91,45.55 L610.93,45.44 L610.94,45.32 L610.95,45.2 L610.96,45.08 L610.98,44.96 L610.98,44.93 L610.99,44.83 L611,44.71 L611.01,44.59 L611.03,44.47 L611.04,44.35 L611.05,44.22 L611.06,44.15 L611.06,44.1 L611.08,43.98 L611.09,43.85 L611.1,43.73 L611.11,43.6 L611.13,43.48 L611.14,43.38 L611.14,43.35 L611.15,43.23 L611.16,43.1 L611.18,42.97 L611.19,42.84 L611.2,42.72 L611.21,42.61 L611.21,42.59 L611.23,42.46 L611.24,42.33 L611.25,42.2 L611.27,42.07 L611.28,41.94 L611.29,41.85 L611.29,41.81 L611.3,41.68 L611.32,41.55 L611.33,41.41 L611.34,41.28 L611.35,41.15 L611.36,41.08 L611.37,41.01 L611.38,40.88 L611.39,40.75 L611.4,40.61 L611.42,40.47 L611.43,40.34 L611.43,40.32 L611.44,40.2 L611.45,40.06 L611.47,39.93 L611.48,39.79 L611.49,39.65 L611.5,39.56 L611.5,39.51 L611.52,39.37 L611.53,39.23 L611.54,39.09 L611.55,38.95 L611.57,38.81 L611.58,38.67 L611.59,38.52 L611.6,38.38 L611.62,38.24 L611.63,38.09 L611.63,38.05 L611.64,37.95 L611.66,37.8 L611.67,37.66 L611.68,37.51 L611.69,37.37 L611.7,37.3 L611.71,37.22 L611.72,37.07 L611.73,36.92 L611.74,36.77 L611.76,36.62 L611.76,36.56 L611.77,36.47 L611.78,36.32 L611.79,36.17 L611.81,36.02 L611.82,35.87 L611.82,35.81 L611.83,35.71 L611.84,35.56 L611.86,35.41 L611.87,35.25 L611.88,35.1 L611.88,35.07 L611.89,34.94 L611.91,34.78 L611.92,34.63 L611.93,34.47 L611.94,34.33 L611.94,34.31 L611.96,34.15 L611.97,33.99 L611.98,33.83 L612,33.67 L612,33.6 L612.01,33.51 L612.02,33.35 L612.03,33.18 L612.05,33.02 L612.06,32.87 L612.06,32.86 L612.07,32.69 L612.08,32.53 L612.1,32.36 L612.11,32.19 L612.11,32.14 L612.12,32.03 L612.13,31.86 L612.15,31.69 L612.16,31.52 L612.17,31.42 L612.17,31.35 L612.18,31.18 L612.2,31.01 L612.21,30.84 L612.22,30.71 L612.22,30.66 L612.23,30.49 L612.25,30.32 L612.26,30.14 L612.27,30 L612.27,29.96 L612.28,29.79 L612.3,29.61 L612.31,29.43 L612.32,29.29 L612.32,29.26 L612.33,29.08 L612.35,28.9 L612.36,28.72 L612.37,28.59 L612.37,28.54 L612.39,28.36 L612.4,28.17 L612.41,27.99 L612.42,27.89 L612.42,27.81 L612.44,27.62 L612.45,27.44 L612.46,27.25 L612.46,27.21 L612.47,27.06 L612.49,26.88 L612.5,26.69 L612.51,26.52 L612.51,26.5 L612.52,26.31 L612.54,26.12 L612.55,25.93 L612.55,25.85 L612.56,25.74 L612.57,25.55 L612.59,25.36 L612.6,25.18 L612.6,25.16 L612.61,24.97 L612.62,24.77 L612.64,24.58 L612.64,24.52 L612.65,24.38 L612.66,24.19 L612.67,23.99 L612.68,23.87 L612.69,23.79 L612.7,23.6 L612.71,23.4 L612.72,23.23 L612.72,23.2 L612.74,23 L612.75,22.8 L612.76,22.6 L612.76,22.59 L612.78,22.4 L612.79,22.2 L612.8,22 L612.8,21.97 L612.81,21.8 L612.83,21.59 L612.84,21.39 L612.84,21.36 L612.85,21.19 L612.86,20.99 L612.88,20.78 L612.88,20.76 L612.89,20.58 L612.9,20.38 L612.91,20.18 L612.93,19.98 L612.94,19.77 L612.95,19.61 L612.95,19.57 L612.96,19.37 L612.98,19.17 L612.98,19.06 L612.99,18.97 L613,18.77 L613.01,18.57 L613.02,18.52 L613.03,18.37 L613.04,18.18 L613.05,18 L613.05,17.98 L613.06,17.79 L613.08,17.6 L613.08,17.51 L613.09,17.41 L613.1,17.22 L613.11,17.04 L613.12,17.03 L613.13,16.85 L613.14,16.67 L613.15,16.59 L613.15,16.49 L613.17,16.32 L613.18,16.18 L613.18,16.15 L613.19,15.99 L613.2,15.83 L613.21,15.8 L613.22,15.68 L613.23,15.53 L613.23,15.46 L613.24,15.39 L613.25,15.26 L613.26,15.02 L613.27,14.92 L613.28,14.53 L613.29,14.18 L613.29,14.15 L613.3,13.75 L613.32,13.36 L613.32,13.34 L613.33,12.96 L613.34,12.55 L613.34,12.5 L613.35,12.15 L613.37,11.73 L613.37,11.66 L613.38,11.31 L613.39,10.89 L613.39,10.81 L613.4,10.46 L613.42,10.03 L613.42,9.97 L613.43,9.59 L613.44,9.15 L613.44,9.13 L613.45,8.7 L613.47,8.29 L613.47,8.24 L613.48,7.78 L613.49,7.45 L613.49,7.31 L613.51,6.84 L613.51,6.6 L613.52,6.36 L613.53,5.88 L613.53,5.76 L613.54,5.38 L613.55,4.92 L613.56,4.88 L613.57,4.38 L613.58,4.08 L613.58,3.87 L613.59,3.35 L613.6,3.23 L613.61,2.82 L613.62,2.39 L613.62,2.28 L613.63,1.74 L613.64,1.55 L613.64,1.19 L613.65,0.71 L613.66,0.63 L613.67,0.06 L613.67,-0.13 L613.68,-0.52 L613.69,-0.98 L613.69,-1.1 L613.71,-1.7 L613.71,-1.82 L613.72,-2.31 L613.73,-2.66 L613.73,-2.92 L613.74,-3.6 L613.74,-3.71 L613.76,-5.02 L613.76,-5.33 L613.77,-6.32 L613.78,-6.99 L613.78,-7.6 L613.79,-8.59 L613.79,-8.87 L613.81,-10.13 L613.81,-10.15 L613.82,-11.38 L613.82,-11.66 L613.83,-12.64 L613.84,-13.13 L613.85,-13.89 L613.85,-14.57 L613.86,-15.15 L613.87,-15.98 L613.87,-16.41 L613.88,-17.23 L613.89,-17.23 L613.9,-17.23 L613.91,-17.23 L613.92,-17.23 L613.93,-17.23 L613.94,-17.23 L613.95,-17.23 L613.96,-17.23 L613.97,-17.23 L613.98,-17.23 L613.99,-17.23 L614,-17.23 L614.01,-17.23 L614.02,-17.23 L614.03,-17.23 L614.04,-17.23 L614.05,-17.23 L614.06,-17.23 L614.07,-17.23 L614.08,-17.23 L614.09,-17.23 L614.1,-17.23 L614.11,-17.23 L614.12,-17.23 L614.13,-17.23 L614.14,-17.23 L614.15,-17.23 L614.16,-17.23 L614.17,-17.23 L614.18,-17.23 L614.19,-17.23 L614.2,-17.23 L614.21,-17.23 L614.22,-17.23 L614.23,-17.23 L614.24,-17.23 L614.25,-17.23 L614.26,-17.23 L614.27,-17.23 L614.28,-17.23 L614.29,-17.23 L614.3,-17.23 L614.31,-17.23 L614.32,-17.23 L614.33,-17.23 L614.34,-17.23 L614.35,-17.23 L614.36,-17.23 L614.37,-17.23 L614.38,-17.23 L614.39,-17.23 L614.4,-17.23 L614.41,-17.23 L614.42,-17.23 L614.43,-17.23 L614.44,-17.23 L614.45,-17.23 L614.46,-17.23" stroke="#8778B3" stroke-width="3.7" stroke-dasharray="8.5 2.35"/>
</g>
<path d="M94.57,10.6 H614.47 V851.45 H94.57 Z" stroke="#5e5e5e" stroke-width="1" fill="none"/>
<path d="M94.57,851.45 v-10 M198.55,851.45 v-10 M302.53,851.45 v-10 M406.51,851.45 v-10 M510.49,851.45 v-10 M614.47,851.45 v-10 M94.57,10.80 h10 M94.57,104.22 h10 M94.57,197.64 h10 M94.57,291.06 h10 M94.57,384.48 h10 M94.57,477.90 h10 M94.57,571.32 h10 M94.57,664.74 h10 M94.57,758.16 h10 M94.57,851.58 h10" stroke="#5e5e5e" stroke-width="1" fill="none"/>
<g opacity="0.999">
<text transform="translate(87.60,17.75) rotate(0.03) scale(1,1)" x="0" y="0" font-family="'Liberation Sans', sans-serif" font-size="19.8" text-anchor="end" fill="#000" text-rendering="geometricPrecision">0</text>
<text transform="translate(87.60,111.17) rotate(0.03) scale(1,1)" x="0" y="0" font-family="'Liberation Sans', sans-serif" font-size="19.8" text-anchor="end" fill="#000" text-rendering="geometricPrecision">−5</text>
<text transform="translate(87.60,204.59) rotate(0.03) scale(1,1)" x="0" y="0" font-family="'Liberation Sans', sans-serif" font-size="19.8" text-anchor="end" fill="#000" text-rendering="geometricPrecision">−10</text>
<text transform="translate(87.60,298.01) rotate(0.03) scale(1,1)" x="0" y="0" font-family="'Liberation Sans', sans-serif" font-size="19.8" text-anchor="end" fill="#000" text-rendering="geometricPrecision">−15</text>
<text transform="translate(87.60,391.43) rotate(0.03) scale(1,1)" x="0" y="0" font-family="'Liberation Sans', sans-serif" font-size="19.8" text-anchor="end" fill="#000" text-rendering="geometricPrecision">−20</text>
<text transform="translate(87.60,484.85) rotate(0.03) scale(1,1)" x="0" y="0" font-family="'Liberation Sans', sans-serif" font-size="19.8" text-anchor="end" fill="#000" text-rendering="geometricPrecision">−25</text>
<text transform="translate(87.60,578.27) rotate(0.03) scale(1,1)" x="0" y="0" font-family="'Liberation Sans', sans-serif" font-size="19.8" text-anchor="end" fill="#000" text-rendering="geometricPrecision">−30</text>
<text transform="translate(87.60,671.69) rotate(0.03) scale(1,1)" x="0" y="0" font-family="'Liberation Sans', sans-serif" font-size="19.8" text-anchor="end" fill="#000" text-rendering="geometricPrecision">−35</text>
<text transform="translate(87.60,765.11) rotate(0.03) scale(1,1)" x="0" y="0" font-family="'Liberation Sans', sans-serif" font-size="19.8" text-anchor="end" fill="#000" text-rendering="geometricPrecision">−40</text>
<text transform="translate(87.60,858.53) rotate(0.03) scale(1,1)" x="0" y="0" font-family="'Liberation Sans', sans-serif" font-size="19.8" text-anchor="end" fill="#000" text-rendering="geometricPrecision">−45</text>
<text transform="translate(94.57,876.10) rotate(0.03) scale(1,1)" x="0" y="0" font-family="'Liberation Sans', sans-serif" font-size="19.8" text-anchor="middle" fill="#000" text-rendering="geometricPrecision">0</text>
<text transform="translate(198.55,876.10) rotate(0.03) scale(1,1)" x="0" y="0" font-family="'Liberation Sans', sans-serif" font-size="19.8" text-anchor="middle" fill="#000" text-rendering="geometricPrecision">0.2</text>
<text transform="translate(302.53,876.10) rotate(0.03) scale(1,1)" x="0" y="0" font-family="'Liberation Sans', sans-serif" font-size="19.8" text-anchor="middle" fill="#000" text-rendering="geometricPrecision">0.4</text>
<text transform="translate(406.51,876.10) rotate(0.03) scale(1,1)" x="0" y="0" font-family="'Liberation Sans', sans-serif" font-size="19.8" text-anchor="middle" fill="#000" text-rendering="geometricPrecision">0.6</text>
<text transform="translate(510.49,876.10) rotate(0.03) scale(1,1)" x="0" y="0" font-family="'Liberation Sans', sans-serif" font-size="19.8" text-anchor="middle" fill="#000" text-rendering="geometricPrecision">0.8</text>
<text transform="translate(614.47,876.10) rotate(0.03) scale(1,1)" x="0" y="0" font-family="'Liberation Sans', sans-serif" font-size="19.8" text-anchor="middle" fill="#000" text-rendering="geometricPrecision">1</text>
<text transform="translate(354.80,927.80) rotate(0.03) scale(1,1)" x="0" y="0" font-family="'Liberation Serif', serif" font-size="34" font-style="italic" text-anchor="middle" fill="#000" text-rendering="geometricPrecision">e</text>
<g transform="translate(26.5,482.7) rotate(-90)"><text transform="translate(0.00,0.00) rotate(0.03) scale(1.055,1)" x="0" y="0" font-family="'Liberation Serif', serif" font-size="29" text-anchor="start" fill="#000" text-rendering="geometricPrecision">log</text><text transform="translate(36.80,7.00) rotate(0.03) scale(1.12,1)" x="0" y="0" font-family="'Liberation Serif', serif" font-size="18" text-anchor="start" fill="#000" text-rendering="geometricPrecision">10</text><text transform="translate(64.60,0.00) rotate(0.03) scale(1.07,1)" x="0" y="0" font-family="'Liberation Serif', serif" font-size="31" text-anchor="start" fill="#000" text-rendering="geometricPrecision">Δ</text><text transform="translate(87.30,4.50) rotate(0.03) scale(1,1)" x="0" y="0" font-family="'Liberation Serif', serif" font-size="19" text-anchor="start" fill="#000" text-rendering="geometricPrecision">K</text></g>
<rect x="495.5" y="606.00" width="21.4" height="20.8" fill="#5E81B5" stroke="#3F5679" stroke-width="1.2"/>
<text transform="translate(527.60,625.00) rotate(0.03) scale(1.08,1)" x="0" y="0" font-family="'Liberation Serif', serif" font-size="26.2" font-style="italic" text-anchor="start" fill="#000" text-rendering="geometricPrecision">N</text>
<path d="M556.9,614.30 h18 M556.9,621.10 h18" stroke="#000" stroke-width="1.15" fill="none"/>
<text transform="translate(584.00,625.00) rotate(0.03) scale(1,1)" x="0" y="0" font-family="'Liberation Serif', serif" font-size="26" text-anchor="start" fill="#000" text-rendering="geometricPrecision">1</text>
<rect x="495.5" y="653.10" width="21.4" height="20.8" fill="#E19C24" stroke="#966818" stroke-width="1.2"/>
<text transform="translate(527.60,672.10) rotate(0.03) scale(1.08,1)" x="0" y="0" font-family="'Liberation Serif', serif" font-size="26.2" font-style="italic" text-anchor="start" fill="#000" text-rendering="geometricPrecision">N</text>
<path d="M556.9,661.40 h18 M556.9,668.20 h18" stroke="#000" stroke-width="1.15" fill="none"/>
<text transform="translate(584.00,672.10) rotate(0.03) scale(1,1)" x="0" y="0" font-family="'Liberation Serif', serif" font-size="26" text-anchor="start" fill="#000" text-rendering="geometricPrecision">2</text>
<rect x="495.5" y="700.40" width="21.4" height="20.8" fill="#8FB032" stroke="#5F7521" stroke-width="1.2"/>
<text transform="translate(527.60,719.40) rotate(0.03) scale(1.08,1)" x="0" y="0" font-family="'Liberation Serif', serif" font-size="26.2" font-style="italic" text-anchor="start" fill="#000" text-rendering="geometricPrecision">N</text>
<path d="M556.9,708.70 h18 M556.9,715.50 h18" stroke="#000" stroke-width="1.15" fill="none"/>
<text transform="translate(584.00,719.40) rotate(0.03) scale(1,1)" x="0" y="0" font-family="'Liberation Serif', serif" font-size="26" text-anchor="start" fill="#000" text-rendering="geometricPrecision">3</text>
<rect x="495.5" y="747.90" width="21.4" height="20.8" fill="#EB6235" stroke="#9D4123" stroke-width="1.2"/>
<text transform="translate(527.60,766.90) rotate(0.03) scale(1.08,1)" x="0" y="0" font-family="'Liberation Serif', serif" font-size="26.2" font-style="italic" text-anchor="start" fill="#000" text-rendering="geometricPrecision">N</text>
<path d="M556.9,756.20 h18 M556.9,763.00 h18" stroke="#000" stroke-width="1.15" fill="none"/>
<text transform="translate(584.00,766.90) rotate(0.03) scale(1,1)" x="0" y="0" font-family="'Liberation Serif', serif" font-size="26" text-anchor="start" fill="#000" text-rendering="geometricPrecision">4</text>
<rect x="495.5" y="795.00" width="21.4" height="20.8" fill="#8778B3" stroke="#5A5077" stroke-width="1.2"/>
<text transform="translate(527.60,814.00) rotate(0.03) scale(1.08,1)" x="0" y="0" font-family="'Liberation Serif', serif" font-size="26.2" font-style="italic" text-anchor="start" fill="#000" text-rendering="geometricPrecision">N</text>
<path d="M556.9,803.30 h18 M556.9,810.10 h18" stroke="#000" stroke-width="1.15" fill="none"/>
<text transform="translate(584.00,814.00) rotate(0.03) scale(1,1)" x="0" y="0" font-family="'Liberation Serif', serif" font-size="26" text-anchor="start" fill="#000" text-rendering="geometricPrecision">5</text>
</g>
</svg>
</body></html>
